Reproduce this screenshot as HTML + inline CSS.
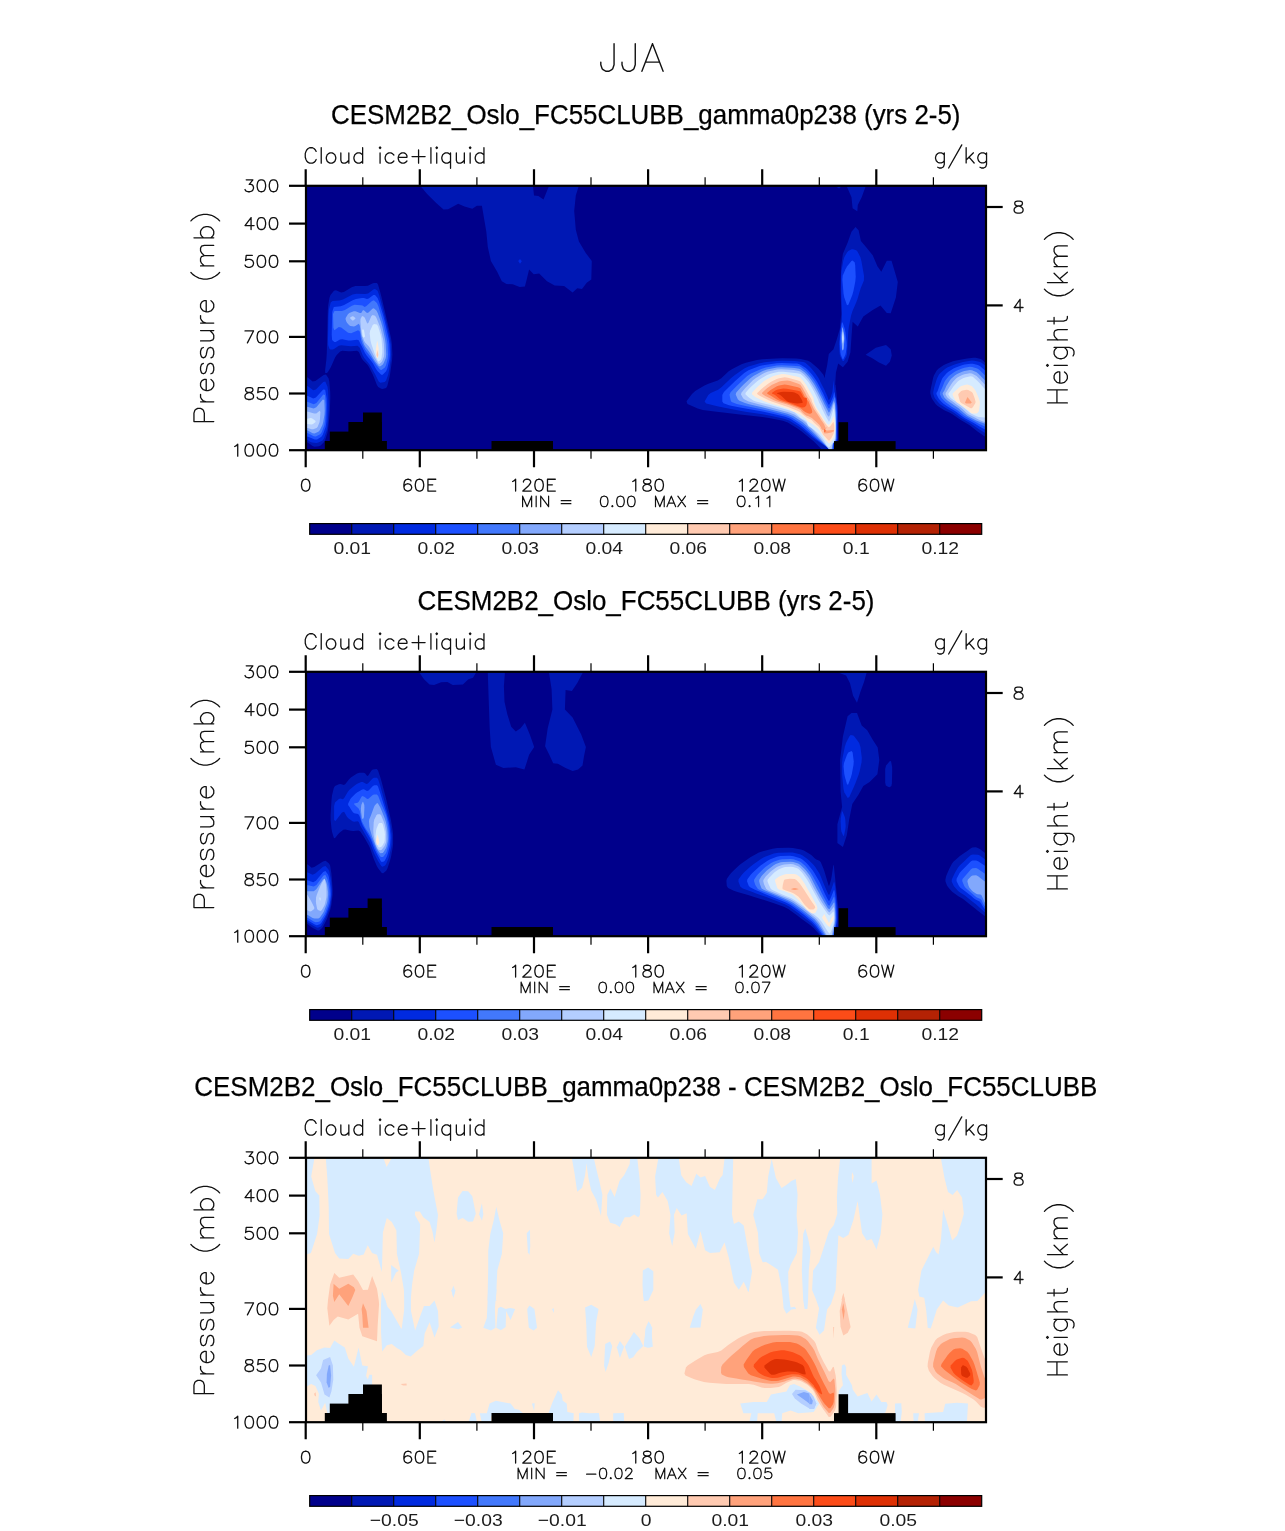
<!DOCTYPE html><html><head><meta charset="utf-8"><title>JJA</title><style>html,body{margin:0;padding:0;background:#fff}svg{display:block;will-change:transform}text{font-family:"Liberation Sans",sans-serif;fill:#000}.t{stroke:#000;stroke-width:.25px}.c{fill:#1c1c1c}</style></head><body>
<svg width="1285" height="1531" viewBox="0 0 1285 1531">
<rect width="1285" height="1531" fill="#fff"/>
<path d="M614.06 43.70 L614.06 64.73 L612.73 68.67 L611.40 69.99 L608.75 71.30 L606.10 71.30 L603.45 69.99 L602.13 68.67 L600.80 64.73 L600.80 62.10 M635.26 43.70 L635.26 64.73 L633.94 68.67 L632.61 69.99 L629.96 71.30 L627.31 71.30 L624.66 69.99 L623.33 68.67 L622.01 64.73 L622.01 62.10 M652.50 43.70 L641.89 71.30 M652.50 43.70 L663.10 71.30 M645.87 62.10 L659.12 62.10" fill="none" stroke="#111" stroke-width="1.4" stroke-linecap="round" stroke-linejoin="round"/>
<clipPath id="cp0"><rect x="306.0" y="185.8" width="680.0" height="264.4"/></clipPath>
<g clip-path="url(#cp0)" transform="translate(0,0)"><rect x="300" y="180" width="700" height="280" fill="#00008b"/><polygon points="298.9,376.7 305.4,376.7 307.8,377.6 312.6,381.5 315.4,381.0 323.7,374.9 326.0,374.5 328.6,378.4 329.3,381.4 330.2,391.9 330.3,396.9 329.9,409.9 329.5,415.5 328.2,428.5 327.5,432.8 325.3,439.8 324.1,442.0 320.6,445.5 318.9,446.3 314.6,446.7 312.6,446.1 307.8,442.6 305.4,441.9 298.9,441.9 297.5,432.1 297.5,386.5" fill="#0018b4"/><polygon points="298.9,385.4 305.4,385.4 307.9,386.2 313.2,390.2 315.9,389.4 323.2,382.0 325.3,381.6 327.5,386.8 328.1,390.7 328.7,403.7 328.6,409.9 327.5,425.5 326.7,430.5 324.1,438.3 322.6,440.5 318.3,442.6 316.4,443.0 312.1,442.6 310.5,442.0 307.5,439.9 305.4,439.4 298.9,439.4 297.5,431.3 297.5,393.5" fill="#002ae0"/><polygon points="298.9,395.3 305.4,395.3 307.9,395.9 313.2,398.5 315.9,397.4 323.2,389.6 325.2,389.8 326.7,398.4 326.9,404.0 326.4,421.4 325.7,426.8 322.9,434.6 321.4,436.8 317.1,439.5 314.7,439.5 308.2,436.8 305.4,436.3 298.9,436.3 297.5,430.1 297.5,401.5" fill="#1c50ff"/><polygon points="298.9,401.5 305.4,401.5 308.0,402.0 313.7,404.2 316.4,402.9 323.3,394.6 325.0,394.9 325.9,404.5 325.9,409.1 325.0,421.3 324.3,425.4 321.7,432.3 320.2,434.3 315.8,436.4 313.7,436.3 308.0,433.2 305.4,432.6 298.9,432.6 297.5,427.9 297.5,406.2" fill="#4278fc"/><polygon points="298.9,406.5 305.4,406.5 308.0,406.9 313.7,408.6 316.3,407.3 322.8,399.5 324.3,400.1 324.7,410.5 324.5,414.4 323.2,422.2 322.4,425.0 319.8,430.2 318.4,431.7 314.5,433.4 312.6,433.2 307.8,430.6 305.4,430.1 298.9,430.1 297.5,426.5 297.5,410.0" fill="#82a8fc"/><polygon points="298.9,411.5 305.4,411.5 308.1,411.8 314.2,413.6 316.3,413.4 319.7,410.8 320.4,411.9 319.9,419.7 319.5,422.3 317.7,426.7 316.6,427.9 313.2,429.2 311.6,429.2 307.7,427.9 305.4,427.6 298.9,427.6 297.5,425.2 297.5,413.9" fill="#b4ceff"/><polygon points="298.9,418.9 305.4,418.9 307.5,418.7 310.5,417.9 311.9,418.2 315.4,420.8 315.6,421.9 313.0,424.0 311.6,424.4 307.7,424.0 305.4,423.9 298.9,423.9 297.5,423.1 297.5,419.7" fill="#d6ebff"/><polygon points="325.1,370.6 326.4,359.3 326.8,353.1 327.2,335.8 327.4,328.3 327.8,311.0 328.2,305.6 329.5,297.7 330.5,295.1 334.0,290.8 335.9,290.3 341.1,292.5 343.9,291.9 351.7,287.2 355.4,286.1 365.0,286.1 367.9,285.7 372.3,283.5 373.9,283.0 376.9,283.0 378.0,284.6 380.2,292.0 381.6,297.5 385.9,315.7 387.6,323.0 391.1,338.6 391.9,344.2 392.4,354.6 392.1,359.7 390.3,372.7 389.5,377.3 387.3,386.0 386.1,388.1 382.6,388.9 381.3,388.8 378.2,387.0 376.9,385.0 373.9,377.2 372.5,374.0 369.0,367.0 367.3,364.6 363.0,360.3 361.5,358.0 358.9,352.0 357.0,350.8 350.9,351.2 348.3,351.2 342.3,350.8 340.2,351.4 336.7,354.9 335.2,357.3 331.8,365.1 330.5,367.7 327.9,372.1 326.9,373.0 325.2,373.0" fill="#0018b4"/><polygon points="328.0,339.4 328.4,316.0 328.9,309.5 330.7,302.5 332.5,300.9 339.5,300.5 343.0,299.4 352.6,294.6 356.5,293.7 365.1,294.1 368.1,293.4 373.3,289.5 375.0,289.0 377.6,290.7 379.3,295.4 384.5,315.4 386.4,323.0 389.8,338.6 390.7,344.2 391.1,354.6 390.8,359.3 389.1,370.6 388.3,374.3 386.1,380.4 384.7,381.9 380.4,382.7 378.7,381.4 375.2,374.5 373.7,371.7 370.2,365.6 368.6,363.2 364.2,358.0 362.6,355.2 359.6,347.4 357.5,345.8 351.0,346.2 348.1,346.1 341.2,345.3 338.8,345.7 334.4,348.8 332.9,349.4 330.3,349.4 329.5,348.7 328.2,345.2" fill="#002ae0"/><polygon points="331.7,334.7 332.2,312.1 333.8,307.0 340.7,306.2 344.1,305.0 352.7,300.2 355.9,299.0 362.0,298.1 363.9,298.1 367.0,299.0 368.7,298.4 373.4,294.9 375.0,294.9 377.6,297.9 379.1,301.7 383.5,316.5 385.1,323.0 388.6,338.6 389.4,344.2 389.9,354.6 389.5,358.9 387.3,368.5 386.1,371.3 382.6,374.7 381.2,374.7 377.7,371.3 376.2,369.2 372.7,363.1 371.0,360.7 366.7,355.5 365.0,352.9 361.6,345.9 360.4,343.7 358.7,340.2 357.0,339.7 350.9,340.5 348.3,340.5 342.3,339.2 340.0,339.4 335.7,342.0 334.3,342.1 332.1,340.0" fill="#1c50ff"/><polygon points="333.4,327.8 333.0,313.9 334.5,311.0 341.9,311.0 344.9,310.0 351.9,305.7 354.7,304.8 360.7,305.3 362.5,305.6 364.7,306.9 366.4,306.1 372.0,300.9 373.9,300.3 376.9,302.9 378.4,306.3 382.3,319.3 383.8,325.1 386.8,339.0 387.6,344.2 388.0,354.6 387.7,358.4 386.0,365.3 384.9,367.4 381.4,370.0 379.9,369.6 376.4,365.2 375.0,363.2 371.5,358.0 370.0,355.9 366.5,351.6 365.1,349.4 362.1,343.3 361.1,340.1 359.8,331.4 358.1,330.2 351.1,333.3 348.1,332.8 341.2,327.6 338.8,327.1 334.4,330.2" fill="#4278fc"/><polygon points="345.8,317.7 347.9,314.2 349.3,313.1 353.7,311.3 355.5,311.3 359.9,313.1 361.2,312.9 362.9,310.3 363.9,310.3 367.0,312.9 368.5,312.6 372.4,308.7 373.8,308.3 376.4,310.5 377.7,313.0 381.2,322.6 382.5,327.2 385.1,339.4 385.7,344.2 386.2,354.6 385.8,358.0 383.6,363.2 382.6,364.7 380.0,366.4 378.7,365.9 375.2,361.5 373.7,359.3 370.2,353.2 368.7,351.0 365.3,346.6 364.1,344.4 361.9,338.3 361.1,335.0 359.8,325.4 358.8,323.8 355.3,326.0 353.9,326.4 350.4,325.9 349.2,325.3 347.0,322.7 346.3,321.6 345.5,319.0" fill="#82a8fc"/><polygon points="360.5,319.1 361.8,316.5 362.4,316.1 364.2,317.0 365.0,318.3 367.2,323.5 368.3,323.1 371.3,316.2 372.5,314.9 375.1,315.7 376.4,317.8 379.9,326.5 381.1,330.4 383.3,339.9 383.9,344.0 384.3,353.6 384.0,356.6 382.3,360.9 381.4,362.2 379.3,363.9 378.1,363.2 375.1,358.0 373.7,355.4 370.2,348.4 368.7,346.2 365.3,342.7 364.1,340.7 361.9,334.6 361.2,331.2 360.4,321.7" fill="#b4ceff"/><polygon points="370.1,330.8 372.7,325.2 373.9,324.1 376.9,324.5 378.1,326.5 380.7,335.1 381.5,339.1 382.3,348.6 382.3,352.0 381.5,358.0 380.8,359.7 378.6,361.5 377.6,360.5 375.0,354.4 373.9,351.5 371.3,343.7 370.5,340.5 369.7,333.5" fill="#d6ebff"/><polygon points="375.9,349.0 377.0,341.2 377.4,341.0 378.6,347.9 378.7,350.7 378.3,356.8 378.0,358.1 376.9,358.1 376.5,357.0 375.8,351.8" fill="#ffebd8"/><polygon points="377.4,350.3 378.3,354.9 377.4,357.6 376.5,354.9" fill="#ffcab1"/><polygon points="350.1,317.5 352.3,316.2 353.2,316.3 355.4,318.0 355.4,318.8 353.2,320.5 352.3,320.4 350.1,318.2" fill="#b4ceff"/><polygon points="362.3,329.6 363.6,329.6 364.1,330.7 365.0,335.9 364.8,337.1 363.0,337.5 362.6,336.4 362.1,330.8" fill="#d6ebff"/><polygon points="420.9,183.1 420.9,186.5 427.1,194.0 436.5,203.3 443.5,209.6 448.1,209.3 458.2,203.7 464.5,206.5 472.3,208.8 476.9,205.7 481.9,205.7 483.9,217.4 486.3,231.4 487.8,246.9 490.9,260.9 497.2,271.8 501.8,281.2 506.5,284.0 512.7,284.3 519.7,287.1 524.9,286.6 526.7,279.6 529.1,269.5 533.7,274.2 539.2,273.4 547.0,281.2 554.7,285.5 564.1,286.1 572.6,292.4 577.3,288.2 582.0,288.9 586.7,282.7 591.3,279.6 591.8,260.9 585.9,253.2 578.9,241.5 575.8,229.8 574.2,211.1 575.8,195.6 578.6,186.5 578.6,183.1 548.8,183.1 548.8,186.5 543.5,199.5 538.4,196.0 534.0,195.6 533.0,186.5 533.0,183.1" fill="#0018b4"/><polygon points="518.2,260.9 520.0,259.1 521.8,261.2 520.0,263.7" fill="#002ae0"/><polygon points="846.8,183.1 865.6,183.1 865.6,186.6 861.7,197.2 857.8,205.1 857.3,211.3 852.6,208.2 851.5,197.2 846.8,186.6" fill="#0018b4"/><polygon points="835.9,184.7 841.3,184.7 841.3,186.6 839.0,188.6 835.9,186.6" fill="#0018b4"/><polygon points="855.5,227.0 858.6,230.2 860.9,241.1 866.4,247.4 872.7,255.2 877.4,266.2 881.3,271.7 886.8,260.7 891.5,260.7 894.6,270.9 897.8,281.9 895.9,297.6 890.7,313.2 886.8,312.9 880.5,305.4 872.7,310.1 863.3,316.4 857.8,326.6 852.6,321.8 851.5,336.7 850.4,352.4 847.6,361.8 842.9,367.3 838.2,363.4 835.9,372.8 834.3,399.4 835.9,420.0 837.4,446.5 825.7,446.5 825.7,399.4 824.9,375.9 827.2,365.0 828.8,354.0 833.5,349.3 836.6,339.9 839.8,328.9 841.3,313.2 840.6,289.7 841.0,267.8 842.9,253.7 847.6,242.7 851.5,231.7" fill="#0018b4"/><polygon points="853.0,249.2 856.3,250.3 857.6,251.7 860.4,257.2 861.5,261.4 864.0,275.7 863.9,280.4 860.8,288.1 859.7,291.4 857.5,299.0 856.2,302.6 852.4,311.3 851.1,315.6 848.9,326.6 848.3,331.3 847.7,342.2 847.5,346.2 847.0,353.9 846.3,356.5 843.8,360.9 842.7,360.9 840.3,356.5 839.7,353.9 839.1,346.2 839.2,342.2 840.3,331.3 840.8,327.3 841.9,319.6 842.0,314.9 841.5,300.6 841.3,294.0 841.1,277.6 841.4,271.7 843.3,260.7 844.3,257.3 847.0,252.4 848.3,251.0 851.6,249.3" fill="#002ae0"/><polygon points="852.7,260.4 854.7,262.6 855.2,265.4 855.7,276.4 855.4,280.9 853.5,290.7 852.3,295.0 848.4,304.8 847.0,305.3 844.3,297.6 843.5,293.2 842.4,280.0 842.7,275.8 845.5,269.2 847.0,266.6 851.4,261.1" fill="#1c50ff"/><polygon points="842.6,322.5 844.8,329.1 845.5,332.6 846.6,342.5 846.7,346.0 845.9,352.6 845.3,354.9 843.3,359.3 842.6,359.3 840.9,354.9 840.4,352.3 839.9,344.7 839.9,341.1 840.4,332.4 840.8,329.1 841.9,322.5" fill="#1c50ff"/><polygon points="842.8,327.4 844.2,335.1 844.4,338.6 843.8,347.4 843.5,349.5 842.4,350.6 842.0,348.7 841.5,338.9 841.5,335.1 842.3,327.4" fill="#82a8fc"/><polygon points="843.0,331.6 843.6,337.1 843.6,339.2 843.0,343.6 842.8,343.6 842.2,339.2 842.2,337.1 842.8,331.6" fill="#d6ebff"/><polygon points="865.6,354.8 875.8,347.7 886.0,344.9 890.7,349.3 891.8,355.5 889.9,361.8 886.0,365.7 879.0,362.6 871.9,357.9" fill="#0018b4"/><polygon points="686.5,401.3 692.0,393.9 695.2,391.1 704.5,385.6 708.4,383.7 717.7,380.5 721.3,378.3 728.7,371.3 732.3,368.9 741.5,364.2 745.9,362.7 757.0,360.1 762.4,359.3 776.2,358.4 782.2,358.3 796.1,358.5 800.7,359.0 808.1,360.8 810.8,362.2 816.4,366.9 818.6,369.1 823.2,374.6 824.9,377.9 828.1,387.6 829.8,388.7 834.5,384.1 835.6,385.1 836.6,394.3 836.9,397.7 837.3,404.2 837.5,407.2 838.0,414.6 838.1,419.9 838.1,437.5 837.5,441.3 834.7,441.3 834.0,442.7 833.6,449.2 831.9,450.5 824.5,450.5 821.3,449.0 813.9,441.5 810.3,438.4 801.1,431.0 797.1,428.2 787.8,422.6 782.9,420.8 769.0,418.1 762.6,417.1 746.9,415.2 739.9,414.4 723.3,412.6 716.7,411.8 702.8,409.9 697.7,408.5 687.5,403.9" fill="#0018b4"/><polygon points="704.6,401.5 708.3,395.0 710.7,393.0 718.1,389.7 721.7,387.1 730.9,378.3 734.9,375.1 744.2,368.6 748.5,366.5 759.6,363.3 764.6,362.3 776.6,360.9 782.0,360.7 795.0,361.1 798.7,361.4 803.4,361.9 805.3,362.8 809.3,366.3 811.0,368.0 814.5,372.3 815.8,374.1 818.5,378.1 819.5,379.9 821.6,384.2 822.5,386.0 824.7,390.3 825.4,391.9 826.9,395.2 827.4,396.6 828.6,399.9 829.1,400.1 830.3,398.1 830.8,396.9 832.0,393.3 832.4,391.5 833.0,386.8 833.1,384.9 833.3,380.6 833.4,380.6 833.9,384.9 834.2,387.3 835.1,394.4 835.5,396.5 836.2,398.8 836.5,400.4 837.2,405.1 837.4,407.3 837.6,412.8 837.6,415.6 837.4,423.3 837.3,427.4 837.3,438.8 836.8,441.2 834.5,441.2 834.0,442.8 834.0,450.4 830.9,450.0 816.7,440.6 811.6,437.0 802.4,429.1 798.4,426.2 789.1,420.6 784.0,418.8 769.2,415.5 762.6,414.3 746.9,412.0 739.9,410.8 723.3,407.6 717.3,406.3 706.2,403.5" fill="#002ae0"/><polygon points="722.3,401.5 722.3,395.0 723.9,392.1 731.3,384.7 734.9,381.3 744.2,373.0 748.5,370.3 759.6,366.1 764.6,364.9 776.6,363.3 781.8,363.0 793.8,363.4 797.0,363.6 799.5,364.2 801.0,365.0 805.8,368.1 807.7,369.8 812.0,374.6 813.5,376.5 816.4,380.8 817.5,382.6 819.9,386.9 820.8,388.7 823.0,393.0 823.8,394.7 825.4,398.5 826.3,400.2 828.4,404.4 829.2,404.7 830.9,401.7 831.5,400.3 833.0,396.7 833.4,395.3 834.1,392.2 834.5,392.7 835.4,398.2 835.8,400.4 836.5,405.1 836.7,407.3 837.0,412.8 837.0,415.6 836.8,423.3 836.8,427.4 836.8,438.8 836.3,441.2 834.1,441.5 833.6,443.1 833.4,450.4 830.6,449.9 817.7,440.1 813.0,436.2 803.7,427.9 799.7,424.8 790.5,418.8 785.1,416.7 769.4,413.0 762.6,411.6 746.9,408.8 741.5,407.8 732.3,406.0 729.1,405.2 723.5,403.3" fill="#1c50ff"/><polygon points="730.7,400.4 729.5,394.8 730.6,392.3 736.9,385.8 739.8,382.9 747.2,376.0 751.0,373.5 761.2,368.9 765.7,367.5 776.8,365.6 781.6,365.3 792.7,365.8 795.8,366.0 799.3,366.3 800.9,367.1 805.2,370.2 806.9,371.7 810.7,376.0 812.2,377.9 815.0,382.1 816.1,384.0 818.5,388.2 819.5,390.1 821.6,394.4 822.5,396.1 824.4,400.2 825.4,402.3 828.3,408.0 829.3,408.4 831.2,404.9 831.9,403.4 833.3,400.1 833.8,398.9 834.8,397.0 835.1,397.8 835.7,403.3 835.9,405.9 836.3,412.6 836.3,415.6 836.3,423.3 836.3,427.4 836.3,438.6 835.8,441.1 833.7,441.8 833.1,443.5 832.7,450.5 830.1,449.8 818.7,439.5 814.3,435.4 805.0,426.6 801.1,423.5 791.8,417.4 786.2,415.3 769.6,411.1 762.6,409.5 746.9,406.3 742.3,405.3 736.8,403.9 734.9,403.3 731.6,401.9" fill="#4278fc"/><polygon points="737.8,399.3 735.7,394.6 736.3,392.5 741.1,386.9 743.6,384.4 750.1,378.4 753.4,376.0 762.7,370.9 766.9,369.4 777.0,367.6 781.4,367.3 791.6,367.8 794.7,368.0 799.1,368.7 800.8,369.4 804.6,372.3 806.1,373.7 809.5,377.5 810.8,379.2 813.7,383.5 814.8,385.3 817.1,389.6 818.1,391.4 820.3,395.7 821.2,397.6 823.3,401.8 824.2,403.7 826.4,407.9 827.2,409.5 828.7,412.6 829.4,412.3 831.4,407.5 832.1,405.6 833.5,401.5 834.0,401.1 834.7,403.0 835.0,404.9 835.5,412.1 835.7,415.3 835.9,423.3 835.9,427.3 835.9,438.2 835.4,440.9 833.3,442.6 832.6,444.4 831.9,450.6 829.7,449.7 819.7,439.0 815.6,434.7 806.3,425.4 802.4,422.1 793.1,416.1 787.4,413.8 769.8,409.2 763.0,407.5 749.1,404.3 745.0,403.1 739.4,400.8" fill="#82a8fc"/><polygon points="743.1,398.2 741.0,394.5 741.4,392.7 745.3,388.0 747.3,385.9 752.9,380.3 755.9,378.0 764.2,372.9 768.0,371.4 777.2,369.6 781.2,369.3 790.5,369.7 793.6,370.0 798.9,371.0 800.7,371.7 804.0,374.3 805.4,375.7 808.5,379.2 809.7,380.9 812.3,384.9 813.4,386.7 815.8,391.0 816.8,392.8 818.9,397.1 819.8,399.0 822.0,403.5 822.9,405.4 825.0,409.9 825.7,411.4 826.7,414.0 827.2,414.9 828.7,416.8 829.4,416.1 831.4,411.0 832.0,409.0 833.2,405.2 833.6,404.2 834.1,403.0 834.3,403.6 834.9,407.6 835.1,409.8 835.4,415.7 835.4,418.6 835.5,426.3 835.5,429.8 835.4,438.2 834.9,440.7 832.8,443.8 832.1,445.6 831.2,450.9 829.2,449.6 820.7,438.4 816.9,433.9 807.7,424.2 803.7,420.8 794.4,414.6 788.5,412.2 770.0,407.3 763.4,405.5 751.4,402.3 748.0,401.2 744.3,399.3" fill="#b4ceff"/><polygon points="748.2,397.0 745.4,394.3 745.6,392.8 749.3,388.6 751.3,386.6 756.9,381.5 759.6,379.5 767.1,375.0 770.4,373.7 778.8,371.8 783.5,371.7 797.1,373.2 800.6,374.1 803.5,376.4 804.7,377.7 807.5,381.0 808.7,382.5 811.0,386.3 812.1,388.0 814.4,392.3 815.4,394.2 817.5,398.4 818.1,399.8 818.8,401.8 819.2,402.7 820.4,404.8 820.9,405.8 821.9,408.4 822.4,409.4 823.4,411.5 823.9,412.4 824.9,414.5 825.4,415.4 826.4,417.5 826.9,418.3 827.9,420.0 828.3,420.6 828.9,421.8 829.2,421.6 830.2,419.5 830.6,418.4 831.6,415.3 832.0,413.9 832.9,410.8 833.2,409.8 833.7,408.2 834.0,408.7 834.7,412.7 834.9,414.6 835.3,419.4 835.5,421.9 835.6,429.0 835.5,431.6 835.2,436.3 835.0,437.9 834.2,440.5 833.6,441.5 832.1,443.7 831.4,444.7 829.5,447.0 828.6,447.1 826.7,445.2 826.0,444.2 824.6,441.4 823.5,439.8 820.0,435.3 818.3,433.5 814.0,429.7 812.3,428.4 808.8,426.3 807.8,425.1 806.7,422.1 806.0,421.1 803.5,419.5 802.5,418.9 800.4,417.7 799.1,416.5 794.7,412.4 789.6,410.4 770.2,405.1 764.2,403.5 755.9,401.4 753.3,400.4 749.6,398.1" fill="#d6ebff"/><polygon points="755.3,397.0 751.9,394.3 752.0,392.8 755.9,388.6 757.9,386.6 763.5,381.5 766.1,379.7 772.5,376.5 775.3,375.5 781.8,374.1 785.7,374.3 797.5,376.8 800.5,377.8 802.9,380.5 803.9,381.7 806.3,385.1 807.3,386.7 809.7,391.0 810.7,392.8 813.1,397.1 813.6,398.5 813.9,400.9 814.2,402.0 815.2,404.6 815.7,405.8 817.1,408.4 817.7,409.4 819.1,411.5 819.7,412.4 820.9,414.5 821.5,415.4 822.9,417.5 823.5,418.4 824.9,420.7 825.4,421.6 826.8,423.5 827.4,424.0 828.7,424.8 829.3,424.6 830.8,422.8 831.3,422.0 832.2,419.8 832.6,418.9 833.3,416.8 833.6,416.5 834.0,417.5 834.3,418.6 834.9,422.9 835.0,425.0 834.9,431.0 834.7,433.0 834.0,436.6 833.5,437.9 832.1,440.2 831.4,441.2 829.5,443.2 828.5,443.1 826.2,440.6 825.2,439.4 823.3,436.3 822.4,434.8 819.8,430.7 818.3,429.1 814.0,425.3 812.3,424.0 808.8,422.1 807.6,421.2 805.9,418.9 805.0,418.1 802.9,416.7 802.1,416.1 800.4,414.7 797.9,413.5 788.0,409.1 782.9,407.3 769.0,403.1 764.5,401.6 757.6,398.3" fill="#ffebd8"/><polygon points="760.1,395.9 757.1,394.1 757.3,392.9 761.2,389.2 763.2,387.5 768.8,383.3 771.2,381.8 776.7,379.0 779.1,378.2 784.6,377.3 788.0,377.7 797.9,380.4 800.4,381.5 802.3,383.9 803.2,385.1 805.3,388.5 806.2,389.9 808.1,393.5 808.9,395.0 810.9,398.3 811.5,399.4 811.9,401.1 812.2,402.0 813.4,404.6 814.0,405.8 815.4,408.4 816.0,409.4 817.4,411.5 818.0,412.4 819.4,414.5 820.0,415.4 821.4,417.5 822.0,418.4 823.4,420.7 824.0,421.6 825.3,423.5 825.8,424.1 826.6,425.3 827.1,425.8 828.7,427.2 829.3,427.1 830.8,425.5 831.3,424.8 832.2,423.4 832.6,422.9 833.3,421.9 833.6,422.3 834.2,424.9 834.3,426.2 834.3,429.8 834.2,431.1 833.6,433.4 833.2,434.5 832.0,436.8 831.4,437.9 829.5,440.5 828.5,440.5 826.2,437.9 825.3,437.0 823.6,435.3 823.0,434.5 821.8,432.1 821.2,430.9 819.6,427.8 818.5,426.6 815.5,424.0 814.3,422.9 811.9,420.3 810.9,419.5 808.5,418.5 807.5,418.0 805.0,416.3 804.1,415.6 802.4,414.2 801.7,413.6 800.3,412.2 797.9,411.1 788.0,407.1 783.5,405.4 772.3,401.7 768.6,400.2 762.1,397.0" fill="#ffcab1"/><polygon points="765.3,395.9 762.1,393.8 762.1,392.7 765.3,389.7 767.0,388.3 771.6,385.1 773.8,383.9 779.4,381.6 781.7,381.0 787.3,380.5 790.2,381.0 798.3,383.8 800.3,384.8 801.7,386.7 802.4,387.8 804.3,391.2 805.1,392.6 806.8,395.9 807.5,397.1 809.0,399.2 809.5,400.0 810.1,401.2 810.5,402.0 811.7,404.6 812.3,405.8 813.6,408.4 814.2,409.4 815.6,411.5 816.2,412.4 817.6,414.5 818.2,415.4 819.6,417.5 820.2,418.4 821.6,420.7 822.2,421.6 823.6,423.5 824.2,424.5 825.4,427.5 825.9,428.0 826.8,427.3 826.9,427.3 826.6,428.0 826.3,428.3 825.2,429.0 824.7,429.3 823.2,429.9 822.7,429.9 821.8,429.3 821.5,428.9 821.0,427.5 820.6,426.8 819.5,424.9 818.5,423.9 815.5,421.3 814.3,420.3 811.9,418.1 810.9,417.4 808.5,416.2 807.8,415.9 806.7,415.7 806.1,415.4 804.1,414.0 803.4,413.3 801.8,411.8 801.3,411.1 800.2,409.7 798.3,408.8 790.2,405.6 786.5,404.3 777.2,401.5 773.9,400.2 767.4,397.0" fill="#ffa27b"/><polygon points="770.0,395.3 767.2,393.7 767.3,392.8 770.6,390.0 772.3,388.9 776.9,386.3 779.1,385.5 784.6,384.6 788.0,384.9 797.9,387.3 800.3,388.3 801.7,390.7 802.4,391.9 804.1,395.2 804.7,396.4 806.1,398.6 806.8,399.4 808.2,401.1 808.7,402.0 809.7,404.6 810.2,405.7 811.2,408.0 811.6,408.9 812.1,411.0 812.2,411.7 812.0,412.7 811.7,413.1 810.3,413.8 809.7,413.8 808.5,413.5 807.8,413.3 806.1,412.6 805.3,412.1 803.4,410.7 802.7,410.1 801.3,408.7 800.8,408.4 800.1,408.0 798.3,407.3 790.2,404.2 786.9,403.1 779.5,400.8 776.8,399.6 771.7,396.3" fill="#ff7440"/><polygon points="774.7,394.7 771.9,393.6 772.1,392.8 775.8,390.2 777.8,389.5 783.3,388.6 786.8,388.8 797.7,390.8 800.3,391.6 801.4,393.2 802.0,394.2 803.4,397.0 804.2,397.7 806.3,397.7 806.8,398.3 806.9,400.9 806.9,401.8 806.8,403.6 806.6,404.3 806.1,405.7 805.8,406.1 804.7,407.0 804.1,407.2 802.4,407.4 801.7,407.4 800.3,407.0 798.3,406.2 790.2,403.0 787.3,401.9 781.7,400.0 779.8,398.9 776.0,395.7" fill="#fc4c18"/><polygon points="779.9,394.7 776.9,393.6 777.1,393.1 781.0,391.9 783.7,391.7 792.0,392.0 794.5,392.4 797.7,394.0 798.9,395.1 801.2,398.8 801.9,400.1 802.8,402.4 802.0,403.0 797.4,403.5 795.0,403.3 788.5,401.9 786.2,400.6 781.5,396.0" fill="#de3004"/><polygon points="823.8,428.8 824.5,428.6 824.9,428.8 826.1,430.3 827.5,430.5 832.7,430.0 833.8,430.1 834.0,431.0 833.6,431.4 832.1,432.1 831.3,432.4 828.9,433.0 827.7,433.2 824.6,433.4 823.9,432.8 823.7,429.6" fill="#ffa27b"/><polygon points="824.1,429.2 824.5,428.9 824.8,429.2 825.8,430.6 825.9,431.0 825.7,431.5 825.4,431.7 824.2,432.2 824.0,431.8 824.0,429.7" fill="#ff7440"/><polygon points="988.5,363.0 986.0,363.0 984.9,362.4 982.4,359.9 980.8,359.1 975.7,357.8 973.4,357.7 967.3,358.5 964.3,359.0 956.3,360.5 953.0,361.3 946.0,363.9 943.4,365.2 938.4,368.7 936.7,370.5 933.9,375.5 933.1,377.9 931.8,383.9 931.3,386.3 930.3,391.3 930.3,393.3 931.3,397.3 932.3,399.2 935.8,404.3 937.7,406.1 942.7,409.3 944.8,410.5 949.9,412.8 952.4,414.2 958.9,418.8 961.6,420.5 967.6,424.0 970.0,425.6 975.0,429.6 977.5,431.5 984.0,436.0 986.0,437.0 988.5,437.0 989.0,425.9 989.0,374.1" fill="#0018b4"/><polygon points="988.5,365.8 986.0,365.8 984.7,365.2 981.2,362.5 979.3,361.7 974.3,360.7 971.9,360.6 965.9,361.4 963.1,362.0 956.1,364.0 953.3,364.9 947.2,367.5 945.0,368.9 940.4,372.9 939.0,374.6 937.0,378.6 936.3,380.6 934.8,385.6 934.2,387.6 933.2,392.2 933.3,393.9 934.5,397.4 935.5,399.0 938.8,403.1 940.4,404.6 945.0,407.6 947.0,408.8 952.0,411.6 954.4,413.1 960.4,417.4 963.0,419.0 969.1,422.6 971.4,424.1 976.5,427.6 978.7,429.1 984.3,432.6 986.0,433.4 988.5,433.4 989.0,423.2 989.0,376.0" fill="#002ae0"/><polygon points="988.5,370.9 986.0,370.9 984.5,370.0 979.9,366.0 977.9,364.9 972.9,363.8 970.5,363.7 964.5,364.6 961.9,365.2 955.8,367.5 953.5,368.6 948.4,371.7 946.6,373.2 943.1,377.2 942.0,379.0 940.2,383.5 939.5,385.5 938.0,390.0 937.4,391.4 936.4,393.1 936.5,394.2 938.1,397.5 939.0,398.9 941.7,402.1 943.2,403.4 947.2,406.2 949.2,407.4 954.2,410.5 956.5,412.0 962.0,416.3 964.5,417.9 970.5,421.2 972.9,422.5 977.9,425.5 979.9,426.7 984.5,429.2 986.0,429.8 988.5,429.8 989.0,420.9 989.0,379.7" fill="#1c50ff"/><polygon points="988.5,375.9 986.0,375.9 984.4,374.8 979.3,369.8 977.2,368.4 972.2,366.9 969.9,366.8 964.4,367.8 962.0,368.5 956.5,370.7 954.3,371.9 949.8,375.2 948.2,376.8 945.1,380.8 944.2,382.5 942.7,386.5 941.9,388.3 939.9,392.6 939.8,394.2 941.3,397.5 942.2,398.7 944.7,401.2 946.0,402.4 949.5,405.1 951.3,406.4 956.3,409.4 958.5,410.9 963.5,415.2 965.9,416.8 971.9,420.1 974.3,421.3 979.3,423.9 981.2,424.8 984.7,426.5 986.0,426.9 988.5,426.9 989.0,419.3 989.0,383.5" fill="#4278fc"/><polygon points="988.5,380.9 986.0,380.9 984.3,379.7 978.7,373.9 976.6,372.2 972.0,370.2 969.9,370.0 964.4,371.0 962.1,371.7 957.1,374.0 955.1,375.2 951.1,378.7 949.7,380.4 947.2,384.4 946.3,386.0 944.8,389.5 944.2,390.8 942.7,393.0 942.7,394.1 944.2,397.2 945.0,398.3 947.5,400.6 948.8,401.6 952.4,404.1 954.1,405.3 958.6,408.3 960.5,409.9 965.1,414.1 967.3,415.8 973.4,419.0 975.7,420.2 980.8,422.2 982.4,422.8 984.9,423.8 986.0,424.0 988.5,424.0 989.0,417.6 989.0,387.4" fill="#82a8fc"/><polygon points="988.5,385.2 986.0,385.2 984.3,383.9 978.7,377.9 976.6,376.1 972.0,373.6 969.9,373.2 964.4,374.2 962.2,374.9 957.7,377.2 956.1,378.4 953.0,381.7 951.9,383.2 949.3,387.2 948.3,389.0 945.7,392.9 945.5,394.3 947.0,396.9 947.9,397.9 950.4,399.9 951.6,400.8 954.6,403.1 956.2,404.3 960.8,407.5 962.6,409.1 966.6,413.1 968.8,414.6 974.8,417.6 977.0,418.7 981.0,420.7 982.4,421.3 984.9,422.1 986.0,422.2 988.5,422.2 989.0,416.7 989.0,390.8" fill="#b4ceff"/><polygon points="988.5,389.5 986.0,389.5 984.4,388.4 979.3,382.8 977.3,380.8 972.8,376.8 970.6,376.2 965.1,377.4 963.0,378.2 959.0,380.4 957.5,381.7 954.5,385.2 953.4,386.6 951.4,389.6 950.5,390.8 948.5,393.3 948.4,394.4 949.9,396.9 950.8,397.9 953.3,399.9 954.6,400.8 958.1,402.8 959.7,404.0 963.7,407.5 965.5,409.0 969.5,412.5 971.4,413.8 976.5,416.3 978.7,417.0 984.3,417.5 986.0,417.6 988.5,417.6 989.0,413.4 989.0,393.8" fill="#d6ebff"/><polygon points="952.9,393.3 955.4,390.8 956.6,389.7 959.6,386.9 961.3,386.0 965.8,384.7 967.5,384.6 971.0,385.7 972.3,386.6 974.8,389.6 975.8,391.2 977.8,395.8 978.5,397.6 979.8,401.6 979.9,403.8 979.1,409.8 978.7,411.5 977.1,413.2 976.1,413.6 972.5,413.6 971.1,413.0 968.1,410.3 966.4,408.9 961.4,405.4 959.6,404.2 956.6,402.2 955.6,400.9 953.5,396.9 953.0,395.7 952.5,394.2" fill="#ffebd8"/><polygon points="958.7,393.4 961.2,391.1 962.6,390.5 966.6,389.8 968.2,390.1 971.8,392.0 972.8,393.3 974.3,397.3 974.8,398.8 975.6,401.8 975.4,403.1 973.6,406.1 973.0,407.1 971.7,408.3 970.7,408.2 967.5,406.5 965.8,405.5 961.3,403.0 960.1,401.7 959.1,398.2 958.8,396.9 958.2,394.4" fill="#ffcab1"/><polygon points="965.0,402.5 967.5,396.9 971.8,402.5 970.7,403.6 966.0,403.6" fill="#ffa27b"/><rect x="324.8" y="441.0" width="62.1" height="11.0" fill="#000"/><rect x="329.8" y="431.6" width="52.1" height="20.4" fill="#000"/><rect x="348.4" y="422.0" width="33.5" height="30.0" fill="#000"/><rect x="363.0" y="412.5" width="18.9" height="39.5" fill="#000"/><rect x="491.5" y="441.0" width="61.5" height="11.0" fill="#000"/><rect x="834.0" y="441.1" width="61.6" height="10.9" fill="#000"/><rect x="838.6" y="422.2" width="9.5" height="29.8" fill="#000"/></g>
<rect x="306.0" y="185.8" width="680.0" height="264.4" fill="none" stroke="#000" stroke-width="2.2"/>
<path d="M305.7 450.2 V467.2 M305.7 185.8 V169.3" stroke="#000" stroke-width="2.2" fill="none"/>
<path d="M362.8 450.2 V458.7 M362.8 185.8 V177.3" stroke="#000" stroke-width="1.2" fill="none"/>
<path d="M419.8 450.2 V467.2 M419.8 185.8 V169.3" stroke="#000" stroke-width="2.2" fill="none"/>
<path d="M476.9 450.2 V458.7 M476.9 185.8 V177.3" stroke="#000" stroke-width="1.2" fill="none"/>
<path d="M534.0 450.2 V467.2 M534.0 185.8 V169.3" stroke="#000" stroke-width="2.2" fill="none"/>
<path d="M591.0 450.2 V458.7 M591.0 185.8 V177.3" stroke="#000" stroke-width="1.2" fill="none"/>
<path d="M648.1 450.2 V467.2 M648.1 185.8 V169.3" stroke="#000" stroke-width="2.2" fill="none"/>
<path d="M705.1 450.2 V458.7 M705.1 185.8 V177.3" stroke="#000" stroke-width="1.2" fill="none"/>
<path d="M762.2 450.2 V467.2 M762.2 185.8 V169.3" stroke="#000" stroke-width="2.2" fill="none"/>
<path d="M819.3 450.2 V458.7 M819.3 185.8 V177.3" stroke="#000" stroke-width="1.2" fill="none"/>
<path d="M876.3 450.2 V467.2 M876.3 185.8 V169.3" stroke="#000" stroke-width="2.2" fill="none"/>
<path d="M933.4 450.2 V458.7 M933.4 185.8 V177.3" stroke="#000" stroke-width="1.2" fill="none"/>
<path d="M306.0 185.8 H289.0" stroke="#000" stroke-width="2.2" fill="none"/>
<path d="M246.22 179.85 L252.89 179.85 L249.25 184.38 L251.07 184.38 L252.28 184.95 L252.89 185.52 L253.50 187.22 L253.50 188.35 L252.89 190.05 L251.68 191.18 L249.86 191.75 L248.04 191.75 L246.22 191.18 L245.61 190.62 L245.01 189.48 M260.77 179.85 L258.95 180.42 L257.74 182.12 L257.13 184.95 L257.13 186.65 L257.74 189.48 L258.95 191.18 L260.77 191.75 L261.99 191.75 L263.80 191.18 L265.02 189.48 L265.62 186.65 L265.62 184.95 L265.02 182.12 L263.80 180.42 L261.99 179.85 L260.77 179.85 M272.90 179.85 L271.08 180.42 L269.87 182.12 L269.26 184.95 L269.26 186.65 L269.87 189.48 L271.08 191.18 L272.90 191.75 L274.11 191.75 L275.93 191.18 L277.14 189.48 L277.75 186.65 L277.75 184.95 L277.14 182.12 L275.93 180.42 L274.11 179.85 L272.90 179.85" fill="none" stroke="#111" stroke-width="1.3" stroke-linecap="round" stroke-linejoin="round"/>
<path d="M306.0 223.6 H289.0" stroke="#000" stroke-width="2.2" fill="none"/>
<path d="M251.07 217.62 L245.01 225.55 L254.10 225.55 M251.07 217.62 L251.07 229.52 M260.77 217.62 L258.95 218.19 L257.74 219.89 L257.13 222.72 L257.13 224.42 L257.74 227.25 L258.95 228.95 L260.77 229.52 L261.99 229.52 L263.80 228.95 L265.02 227.25 L265.62 224.42 L265.62 222.72 L265.02 219.89 L263.80 218.19 L261.99 217.62 L260.77 217.62 M272.90 217.62 L271.08 218.19 L269.87 219.89 L269.26 222.72 L269.26 224.42 L269.87 227.25 L271.08 228.95 L272.90 229.52 L274.11 229.52 L275.93 228.95 L277.14 227.25 L277.75 224.42 L277.75 222.72 L277.14 219.89 L275.93 218.19 L274.11 217.62 L272.90 217.62" fill="none" stroke="#111" stroke-width="1.3" stroke-linecap="round" stroke-linejoin="round"/>
<path d="M306.0 261.3 H289.0" stroke="#000" stroke-width="2.2" fill="none"/>
<path d="M252.28 255.39 L246.22 255.39 L245.61 260.49 L246.22 259.93 L248.04 259.36 L249.86 259.36 L251.68 259.93 L252.89 261.06 L253.50 262.76 L253.50 263.89 L252.89 265.59 L251.68 266.73 L249.86 267.29 L248.04 267.29 L246.22 266.73 L245.61 266.16 L245.01 265.03 M260.77 255.39 L258.95 255.96 L257.74 257.66 L257.13 260.49 L257.13 262.19 L257.74 265.03 L258.95 266.73 L260.77 267.29 L261.99 267.29 L263.80 266.73 L265.02 265.03 L265.62 262.19 L265.62 260.49 L265.02 257.66 L263.80 255.96 L261.99 255.39 L260.77 255.39 M272.90 255.39 L271.08 255.96 L269.87 257.66 L269.26 260.49 L269.26 262.19 L269.87 265.03 L271.08 266.73 L272.90 267.29 L274.11 267.29 L275.93 266.73 L277.14 265.03 L277.75 262.19 L277.75 260.49 L277.14 257.66 L275.93 255.96 L274.11 255.39 L272.90 255.39" fill="none" stroke="#111" stroke-width="1.3" stroke-linecap="round" stroke-linejoin="round"/>
<path d="M306.0 336.9 H289.0" stroke="#000" stroke-width="2.2" fill="none"/>
<path d="M253.50 330.94 L247.43 342.84 M245.01 330.94 L253.50 330.94 M260.77 330.94 L258.95 331.50 L257.74 333.20 L257.13 336.04 L257.13 337.74 L257.74 340.57 L258.95 342.27 L260.77 342.84 L261.99 342.84 L263.80 342.27 L265.02 340.57 L265.62 337.74 L265.62 336.04 L265.02 333.20 L263.80 331.50 L261.99 330.94 L260.77 330.94 M272.90 330.94 L271.08 331.50 L269.87 333.20 L269.26 336.04 L269.26 337.74 L269.87 340.57 L271.08 342.27 L272.90 342.84 L274.11 342.84 L275.93 342.27 L277.14 340.57 L277.75 337.74 L277.75 336.04 L277.14 333.20 L275.93 331.50 L274.11 330.94 L272.90 330.94" fill="none" stroke="#111" stroke-width="1.3" stroke-linecap="round" stroke-linejoin="round"/>
<path d="M306.0 393.5 H289.0" stroke="#000" stroke-width="2.2" fill="none"/>
<path d="M248.04 387.59 L246.22 388.16 L245.61 389.29 L245.61 390.43 L246.22 391.56 L247.43 392.13 L249.86 392.69 L251.68 393.26 L252.89 394.39 L253.50 395.53 L253.50 397.23 L252.89 398.36 L252.28 398.93 L250.46 399.49 L248.04 399.49 L246.22 398.93 L245.61 398.36 L245.01 397.23 L245.01 395.53 L245.61 394.39 L246.83 393.26 L248.65 392.69 L251.07 392.13 L252.28 391.56 L252.89 390.43 L252.89 389.29 L252.28 388.16 L250.46 387.59 L248.04 387.59 M264.41 387.59 L258.35 387.59 L257.74 392.69 L258.35 392.13 L260.17 391.56 L261.99 391.56 L263.80 392.13 L265.02 393.26 L265.62 394.96 L265.62 396.09 L265.02 397.79 L263.80 398.93 L261.99 399.49 L260.17 399.49 L258.35 398.93 L257.74 398.36 L257.13 397.23 M272.90 387.59 L271.08 388.16 L269.87 389.86 L269.26 392.69 L269.26 394.39 L269.87 397.23 L271.08 398.93 L272.90 399.49 L274.11 399.49 L275.93 398.93 L277.14 397.23 L277.75 394.39 L277.75 392.69 L277.14 389.86 L275.93 388.16 L274.11 387.59 L272.90 387.59" fill="none" stroke="#111" stroke-width="1.3" stroke-linecap="round" stroke-linejoin="round"/>
<path d="M306.0 450.2 H289.0" stroke="#000" stroke-width="2.2" fill="none"/>
<path d="M234.70 446.52 L235.91 445.95 L237.73 444.25 L237.73 456.15 M248.65 444.25 L246.83 444.82 L245.61 446.52 L245.01 449.35 L245.01 451.05 L245.61 453.88 L246.83 455.58 L248.65 456.15 L249.86 456.15 L251.68 455.58 L252.89 453.88 L253.50 451.05 L253.50 449.35 L252.89 446.52 L251.68 444.82 L249.86 444.25 L248.65 444.25 M260.77 444.25 L258.95 444.82 L257.74 446.52 L257.13 449.35 L257.13 451.05 L257.74 453.88 L258.95 455.58 L260.77 456.15 L261.99 456.15 L263.80 455.58 L265.02 453.88 L265.62 451.05 L265.62 449.35 L265.02 446.52 L263.80 444.82 L261.99 444.25 L260.77 444.25 M272.90 444.25 L271.08 444.82 L269.87 446.52 L269.26 449.35 L269.26 451.05 L269.87 453.88 L271.08 455.58 L272.90 456.15 L274.11 456.15 L275.93 455.58 L277.14 453.88 L277.75 451.05 L277.75 449.35 L277.14 446.52 L275.93 444.82 L274.11 444.25 L272.90 444.25" fill="none" stroke="#111" stroke-width="1.3" stroke-linecap="round" stroke-linejoin="round"/>
<path d="M986.0 207.0 H1002.7" stroke="#000" stroke-width="2.2" fill="none"/>
<path d="M1017.33 201.05 L1015.42 201.63 L1014.79 202.78 L1014.79 203.93 L1015.42 205.08 L1016.69 205.66 L1019.24 206.24 L1021.14 206.81 L1022.41 207.96 L1023.05 209.12 L1023.05 210.85 L1022.41 212.00 L1021.78 212.57 L1019.87 213.15 L1017.33 213.15 L1015.42 212.57 L1014.79 212.00 L1014.15 210.85 L1014.15 209.12 L1014.79 207.96 L1016.06 206.81 L1017.96 206.24 L1020.51 205.66 L1021.78 205.08 L1022.41 203.93 L1022.41 202.78 L1021.78 201.63 L1019.87 201.05 L1017.33 201.05" fill="none" stroke="#111" stroke-width="1.3" stroke-linecap="round" stroke-linejoin="round"/>
<path d="M986.0 305.4 H1002.7" stroke="#000" stroke-width="2.2" fill="none"/>
<path d="M1020.08 299.45 L1014.15 307.52 L1023.05 307.52 M1020.08 299.45 L1020.08 311.55" fill="none" stroke="#111" stroke-width="1.3" stroke-linecap="round" stroke-linejoin="round"/>
<path d="M305.10 479.25 L303.30 479.81 L302.09 481.50 L301.49 484.31 L301.49 485.99 L302.09 488.80 L303.30 490.49 L305.10 491.05 L306.30 491.05 L308.10 490.49 L309.31 488.80 L309.91 485.99 L309.91 484.31 L309.31 481.50 L308.10 479.81 L306.30 479.25 L305.10 479.25" fill="none" stroke="#111" stroke-width="1.3" stroke-linecap="round" stroke-linejoin="round"/>
<path d="M411.11 480.94 L410.51 479.81 L408.70 479.25 L407.50 479.25 L405.70 479.81 L404.49 481.50 L403.89 484.31 L403.89 487.12 L404.49 489.36 L405.70 490.49 L407.50 491.05 L408.10 491.05 L409.91 490.49 L411.11 489.36 L411.71 487.68 L411.71 487.12 L411.11 485.43 L409.91 484.31 L408.10 483.75 L407.50 483.75 L405.70 484.31 L404.49 485.43 L403.89 487.12 M418.92 479.25 L417.12 479.81 L415.92 481.50 L415.32 484.31 L415.32 485.99 L415.92 488.80 L417.12 490.49 L418.92 491.05 L420.13 491.05 L421.93 490.49 L423.13 488.80 L423.73 485.99 L423.73 484.31 L423.13 481.50 L421.93 479.81 L420.13 479.25 L418.92 479.25 M427.94 479.25 L427.94 491.05 M427.94 479.25 L435.76 479.25 M427.94 484.87 L432.75 484.87 M427.94 491.05 L435.76 491.05" fill="none" stroke="#111" stroke-width="1.3" stroke-linecap="round" stroke-linejoin="round"/>
<path d="M512.61 481.50 L513.81 480.94 L515.61 479.25 L515.61 491.05 M523.43 482.06 L523.43 481.50 L524.03 480.37 L524.63 479.81 L525.84 479.25 L528.24 479.25 L529.44 479.81 L530.04 480.37 L530.65 481.50 L530.65 482.62 L530.04 483.75 L528.84 485.43 L522.83 491.05 L531.25 491.05 M538.46 479.25 L536.66 479.81 L535.46 481.50 L534.85 484.31 L534.85 485.99 L535.46 488.80 L536.66 490.49 L538.46 491.05 L539.66 491.05 L541.47 490.49 L542.67 488.80 L543.27 485.99 L543.27 484.31 L542.67 481.50 L541.47 479.81 L539.66 479.25 L538.46 479.25 M547.48 479.25 L547.48 491.05 M547.48 479.25 L555.30 479.25 M547.48 484.87 L552.29 484.87 M547.48 491.05 L555.30 491.05" fill="none" stroke="#111" stroke-width="1.3" stroke-linecap="round" stroke-linejoin="round"/>
<path d="M632.75 481.50 L633.95 480.94 L635.75 479.25 L635.75 491.05 M645.97 479.25 L644.17 479.81 L643.57 480.94 L643.57 482.06 L644.17 483.18 L645.37 483.75 L647.78 484.31 L649.58 484.87 L650.78 485.99 L651.38 487.12 L651.38 488.80 L650.78 489.93 L650.18 490.49 L648.38 491.05 L645.97 491.05 L644.17 490.49 L643.57 489.93 L642.97 488.80 L642.97 487.12 L643.57 485.99 L644.77 484.87 L646.57 484.31 L648.98 483.75 L650.18 483.18 L650.78 482.06 L650.78 480.94 L650.18 479.81 L648.38 479.25 L645.97 479.25 M658.60 479.25 L656.80 479.81 L655.59 481.50 L654.99 484.31 L654.99 485.99 L655.59 488.80 L656.80 490.49 L658.60 491.05 L659.80 491.05 L661.61 490.49 L662.81 488.80 L663.41 485.99 L663.41 484.31 L662.81 481.50 L661.61 479.81 L659.80 479.25 L658.60 479.25" fill="none" stroke="#111" stroke-width="1.3" stroke-linecap="round" stroke-linejoin="round"/>
<path d="M739.36 481.50 L740.56 480.94 L742.36 479.25 L742.36 491.05 M750.18 482.06 L750.18 481.50 L750.78 480.37 L751.38 479.81 L752.58 479.25 L754.99 479.25 L756.19 479.81 L756.79 480.37 L757.39 481.50 L757.39 482.62 L756.79 483.75 L755.59 485.43 L749.58 491.05 L758.00 491.05 M765.21 479.25 L763.41 479.81 L762.20 481.50 L761.60 484.31 L761.60 485.99 L762.20 488.80 L763.41 490.49 L765.21 491.05 L766.41 491.05 L768.22 490.49 L769.42 488.80 L770.02 485.99 L770.02 484.31 L769.42 481.50 L768.22 479.81 L766.41 479.25 L765.21 479.25 M773.03 479.25 L776.03 491.05 M779.04 479.25 L776.03 491.05 M779.04 479.25 L782.04 491.05 M785.05 479.25 L782.04 491.05" fill="none" stroke="#111" stroke-width="1.3" stroke-linecap="round" stroke-linejoin="round"/>
<path d="M866.11 480.94 L865.51 479.81 L863.70 479.25 L862.50 479.25 L860.70 479.81 L859.50 481.50 L858.89 484.31 L858.89 487.12 L859.50 489.36 L860.70 490.49 L862.50 491.05 L863.10 491.05 L864.91 490.49 L866.11 489.36 L866.71 487.68 L866.71 487.12 L866.11 485.43 L864.91 484.31 L863.10 483.75 L862.50 483.75 L860.70 484.31 L859.50 485.43 L858.89 487.12 M873.93 479.25 L872.12 479.81 L870.92 481.50 L870.32 484.31 L870.32 485.99 L870.92 488.80 L872.12 490.49 L873.93 491.05 L875.13 491.05 L876.93 490.49 L878.13 488.80 L878.73 485.99 L878.73 484.31 L878.13 481.50 L876.93 479.81 L875.13 479.25 L873.93 479.25 M881.74 479.25 L884.75 491.05 M887.75 479.25 L884.75 491.05 M887.75 479.25 L890.76 491.05 M893.77 479.25 L890.76 491.05" fill="none" stroke="#111" stroke-width="1.3" stroke-linecap="round" stroke-linejoin="round"/>
<path d="M193.95 421.55 L213.75 421.55 M193.95 421.55 L193.95 413.11 L194.89 410.30 L195.84 409.36 L197.72 408.42 L200.55 408.42 L202.44 409.36 L203.38 410.30 L204.32 413.11 L204.32 421.55 M200.55 401.86 L213.75 401.86 M206.21 401.86 L203.38 400.92 L201.49 399.05 L200.55 397.17 L200.55 394.36 M206.21 390.61 L206.21 379.36 L204.32 379.36 L202.44 380.30 L201.49 381.24 L200.55 383.11 L200.55 385.92 L201.49 387.80 L203.38 389.67 L206.21 390.61 L208.09 390.61 L210.92 389.67 L212.81 387.80 L213.75 385.92 L213.75 383.11 L212.81 381.24 L210.92 379.36 M203.38 363.42 L201.49 364.36 L200.55 367.17 L200.55 369.98 L201.49 372.80 L203.38 373.73 L205.26 372.80 L206.21 370.92 L207.15 366.23 L208.09 364.36 L209.98 363.42 L210.92 363.42 L212.81 364.36 L213.75 367.17 L213.75 369.98 L212.81 372.80 L210.92 373.73 M203.38 347.48 L201.49 348.42 L200.55 351.23 L200.55 354.05 L201.49 356.86 L203.38 357.80 L205.26 356.86 L206.21 354.98 L207.15 350.30 L208.09 348.42 L209.98 347.48 L210.92 347.48 L212.81 348.42 L213.75 351.23 L213.75 354.05 L212.81 356.86 L210.92 357.80 M200.55 340.92 L209.98 340.92 L212.81 339.98 L213.75 338.11 L213.75 335.29 L212.81 333.42 L209.98 330.61 M200.55 330.61 L213.75 330.61 M200.55 323.11 L213.75 323.11 M206.21 323.11 L203.38 322.17 L201.49 320.29 L200.55 318.42 L200.55 315.61 M206.21 311.86 L206.21 300.61 L204.32 300.61 L202.44 301.54 L201.49 302.48 L200.55 304.36 L200.55 307.17 L201.49 309.04 L203.38 310.92 L206.21 311.86 L208.09 311.86 L210.92 310.92 L212.81 309.04 L213.75 307.17 L213.75 304.36 L212.81 302.48 L210.92 300.61 M190.93 272.48 L192.72 274.35 L195.41 276.23 L198.99 278.10 L203.47 279.04 L207.06 279.04 L211.53 278.10 L215.12 276.23 L217.80 274.35 L219.60 272.48 M200.55 265.92 L213.75 265.92 M204.32 265.92 L201.49 263.10 L200.55 261.23 L200.55 258.42 L201.49 256.54 L204.32 255.60 L213.75 255.60 M204.32 255.60 L201.49 252.79 L200.55 250.91 L200.55 248.10 L201.49 246.23 L204.32 245.29 L213.75 245.29 M193.95 237.79 L213.75 237.79 M203.38 237.79 L201.49 235.91 L200.55 234.04 L200.55 231.23 L201.49 229.35 L203.38 227.48 L206.21 226.54 L208.09 226.54 L210.92 227.48 L212.81 229.35 L213.75 231.23 L213.75 234.04 L212.81 235.91 L210.92 237.79 M190.93 220.91 L192.72 219.04 L195.41 217.16 L198.99 215.29 L203.47 214.35 L207.06 214.35 L211.53 215.29 L215.12 217.16 L217.80 219.04 L219.60 220.91" fill="none" stroke="#111" stroke-width="1.3" stroke-linecap="round" stroke-linejoin="round"/>
<path d="M1047.45 402.95 L1067.35 402.95 M1047.45 389.79 L1067.35 389.79 M1056.93 402.95 L1056.93 389.79 M1059.77 383.20 L1059.77 371.92 L1057.87 371.92 L1055.98 372.86 L1055.03 373.80 L1054.08 375.68 L1054.08 378.50 L1055.03 380.38 L1056.93 382.26 L1059.77 383.20 L1061.66 383.20 L1064.51 382.26 L1066.40 380.38 L1067.35 378.50 L1067.35 375.68 L1066.40 373.80 L1064.51 371.92 M1047.45 366.28 L1048.40 365.34 L1047.45 364.40 L1046.50 365.34 L1047.45 366.28 M1054.08 365.34 L1067.35 365.34 M1054.08 347.47 L1069.25 347.47 L1072.09 348.41 L1073.04 349.35 L1073.98 351.23 L1073.98 354.05 L1073.04 355.93 M1056.93 347.47 L1055.03 349.35 L1054.08 351.23 L1054.08 354.05 L1055.03 355.93 L1056.93 357.81 L1059.77 358.75 L1061.66 358.75 L1064.51 357.81 L1066.40 355.93 L1067.35 354.05 L1067.35 351.23 L1066.40 349.35 L1064.51 347.47 M1047.45 339.95 L1067.35 339.95 M1057.87 339.95 L1055.03 337.13 L1054.08 335.25 L1054.08 332.43 L1055.03 330.54 L1057.87 329.60 L1067.35 329.60 M1047.45 321.14 L1063.56 321.14 L1066.40 320.20 L1067.35 318.32 L1067.35 316.44 M1054.08 323.96 L1054.08 317.38 M1044.42 289.17 L1046.22 291.05 L1048.92 292.93 L1052.52 294.81 L1057.02 295.75 L1060.62 295.75 L1065.12 294.81 L1068.72 292.93 L1071.42 291.05 L1073.23 289.17 M1047.45 282.59 L1067.35 282.59 M1054.08 273.18 L1063.56 282.59 M1059.77 278.83 L1067.35 272.24 M1054.08 266.60 L1067.35 266.60 M1057.87 266.60 L1055.03 263.78 L1054.08 261.90 L1054.08 259.08 L1055.03 257.20 L1057.87 256.26 L1067.35 256.26 M1057.87 256.26 L1055.03 253.44 L1054.08 251.56 L1054.08 248.74 L1055.03 246.85 L1057.87 245.91 L1067.35 245.91 M1044.42 239.33 L1046.22 237.45 L1048.92 235.57 L1052.52 233.69 L1057.02 232.75 L1060.62 232.75 L1065.12 233.69 L1068.72 235.57 L1071.42 237.45 L1073.23 239.33" fill="none" stroke="#111" stroke-width="1.3" stroke-linecap="round" stroke-linejoin="round"/>
<path d="M316.15 151.42 L315.42 149.95 L313.97 148.48 L312.51 147.75 L309.61 147.75 L308.16 148.48 L306.70 149.95 L305.98 151.42 L305.25 153.62 L305.25 157.28 L305.98 159.48 L306.70 160.95 L308.16 162.42 L309.61 163.15 L312.51 163.15 L313.97 162.42 L315.42 160.95 L316.15 159.48 M321.23 147.75 L321.23 163.15 M329.95 152.88 L328.50 153.62 L327.04 155.08 L326.32 157.28 L326.32 158.75 L327.04 160.95 L328.50 162.42 L329.95 163.15 L332.13 163.15 L333.58 162.42 L335.03 160.95 L335.76 158.75 L335.76 157.28 L335.03 155.08 L333.58 153.62 L332.13 152.88 L329.95 152.88 M340.84 152.88 L340.84 160.22 L341.57 162.42 L343.02 163.15 L345.20 163.15 L346.66 162.42 L348.84 160.22 M348.84 152.88 L348.84 163.15 M362.64 147.75 L362.64 163.15 M362.64 155.08 L361.18 153.62 L359.73 152.88 L357.55 152.88 L356.10 153.62 L354.65 155.08 L353.92 157.28 L353.92 158.75 L354.65 160.95 L356.10 162.42 L357.55 163.15 L359.73 163.15 L361.18 162.42 L362.64 160.95 M379.35 147.75 L380.07 148.48 L380.80 147.75 L380.07 147.02 L379.35 147.75 M380.07 152.88 L380.07 163.15 M393.87 155.08 L392.42 153.62 L390.97 152.88 L388.79 152.88 L387.34 153.62 L385.88 155.08 L385.16 157.28 L385.16 158.75 L385.88 160.95 L387.34 162.42 L388.79 163.15 L390.97 163.15 L392.42 162.42 L393.87 160.95 M398.23 157.28 L406.95 157.28 L406.95 155.82 L406.22 154.35 L405.50 153.62 L404.04 152.88 L401.86 152.88 L400.41 153.62 L398.96 155.08 L398.23 157.28 L398.23 158.75 L398.96 160.95 L400.41 162.42 L401.86 163.15 L404.04 163.15 L405.50 162.42 L406.95 160.95 M418.57 149.95 L418.57 163.15 M412.03 156.55 L425.11 156.55 M430.92 147.75 L430.92 163.15 M436.01 147.75 L436.73 148.48 L437.46 147.75 L436.73 147.02 L436.01 147.75 M436.73 152.88 L436.73 163.15 M450.53 152.88 L450.53 168.28 M450.53 155.08 L449.08 153.62 L447.63 152.88 L445.45 152.88 L444.00 153.62 L442.54 155.08 L441.82 157.28 L441.82 158.75 L442.54 160.95 L444.00 162.42 L445.45 163.15 L447.63 163.15 L449.08 162.42 L450.53 160.95 M456.35 152.88 L456.35 160.22 L457.07 162.42 L458.53 163.15 L460.70 163.15 L462.16 162.42 L464.34 160.22 M464.34 152.88 L464.34 163.15 M469.42 147.75 L470.15 148.48 L470.87 147.75 L470.15 147.02 L469.42 147.75 M470.15 152.88 L470.15 163.15 M483.95 147.75 L483.95 163.15 M483.95 155.08 L482.50 153.62 L481.04 152.88 L478.87 152.88 L477.41 153.62 L475.96 155.08 L475.23 157.28 L475.23 158.75 L475.96 160.95 L477.41 162.42 L478.87 163.15 L481.04 163.15 L482.50 162.42 L483.95 160.95" fill="none" stroke="#111" stroke-width="1.3" stroke-linecap="round" stroke-linejoin="round"/>
<path d="M944.29 152.82 L944.29 164.40 L943.56 166.57 L942.84 167.29 L941.38 168.02 L939.19 168.02 L937.74 167.29 M944.29 154.99 L942.84 153.54 L941.38 152.82 L939.19 152.82 L937.74 153.54 L936.28 154.99 L935.55 157.16 L935.55 158.61 L936.28 160.78 L937.74 162.23 L939.19 162.95 L941.38 162.95 L942.84 162.23 L944.29 160.78 M961.78 144.85 L948.66 168.02 M966.15 147.75 L966.15 162.95 M973.44 152.82 L966.15 160.05 M969.06 157.16 L974.16 162.95 M986.55 152.82 L986.55 164.40 L985.82 166.57 L985.09 167.29 L983.64 168.02 L981.45 168.02 L979.99 167.29 M986.55 154.99 L985.09 153.54 L983.64 152.82 L981.45 152.82 L979.99 153.54 L978.54 154.99 L977.81 157.16 L977.81 158.61 L978.54 160.78 L979.99 162.23 L981.45 162.95 L983.64 162.95 L985.09 162.23 L986.55 160.78" fill="none" stroke="#111" stroke-width="1.3" stroke-linecap="round" stroke-linejoin="round"/>
<text x="331.0" y="123.6" class="t" font-size="27.4" textLength="629.5" lengthAdjust="spacingAndGlyphs">CESM2B2_Oslo_FC55CLUBB_gamma0p238 (yrs 2-5)</text>
<path d="M522.60 496.20 L522.60 506.70 M522.60 496.20 L527.12 506.70 M531.64 496.20 L527.12 506.70 M531.64 496.20 L531.64 506.70 M536.17 496.20 L536.17 506.70 M540.69 496.20 L540.69 506.70 M540.69 496.20 L548.60 506.70 M548.60 496.20 L548.60 506.70" fill="none" stroke="#111" stroke-width="1.2" stroke-linecap="round" stroke-linejoin="round"/>
<path d="M561.20 500.70 L570.90 500.70 M561.20 503.70 L570.90 503.70" fill="none" stroke="#111" stroke-width="1.2" stroke-linecap="round" stroke-linejoin="round"/>
<path d="M603.65 496.20 L602.03 496.70 L600.94 498.20 L600.40 500.70 L600.40 502.20 L600.94 504.70 L602.03 506.20 L603.65 506.70 L604.74 506.70 L606.36 506.20 L607.45 504.70 L607.99 502.20 L607.99 500.70 L607.45 498.20 L606.36 496.70 L604.74 496.20 L603.65 496.20 M612.33 505.70 L611.79 506.20 L612.33 506.70 L612.87 506.20 L612.33 505.70 M619.92 496.20 L618.29 496.70 L617.21 498.20 L616.67 500.70 L616.67 502.20 L617.21 504.70 L618.29 506.20 L619.92 506.70 L621.00 506.70 L622.63 506.20 L623.71 504.70 L624.26 502.20 L624.26 500.70 L623.71 498.20 L622.63 496.70 L621.00 496.20 L619.92 496.20 M630.76 496.20 L629.14 496.70 L628.05 498.20 L627.51 500.70 L627.51 502.20 L628.05 504.70 L629.14 506.20 L630.76 506.70 L631.85 506.70 L633.47 506.20 L634.56 504.70 L635.10 502.20 L635.10 500.70 L634.56 498.20 L633.47 496.70 L631.85 496.20 L630.76 496.20" fill="none" stroke="#111" stroke-width="1.2" stroke-linecap="round" stroke-linejoin="round"/>
<path d="M655.50 496.20 L655.50 506.70 M655.50 496.20 L659.86 506.70 M664.23 496.20 L659.86 506.70 M664.23 496.20 L664.23 506.70 M671.32 496.20 L666.95 506.70 M671.32 496.20 L675.68 506.70 M668.59 503.20 L674.05 503.20 M677.86 496.20 L685.50 506.70 M677.86 506.70 L685.50 496.20" fill="none" stroke="#111" stroke-width="1.2" stroke-linecap="round" stroke-linejoin="round"/>
<path d="M697.60 500.70 L707.70 500.70 M697.60 503.70 L707.70 503.70" fill="none" stroke="#111" stroke-width="1.2" stroke-linecap="round" stroke-linejoin="round"/>
<path d="M740.57 496.20 L738.89 496.70 L737.76 498.20 L737.20 500.70 L737.20 502.20 L737.76 504.70 L738.89 506.20 L740.57 506.70 L741.70 506.70 L743.38 506.20 L744.51 504.70 L745.07 502.20 L745.07 500.70 L744.51 498.20 L743.38 496.70 L741.70 496.20 L740.57 496.20 M749.57 505.70 L749.00 506.20 L749.57 506.70 L750.13 506.20 L749.57 505.70 M755.75 498.20 L756.87 497.70 L758.56 496.20 L758.56 506.70 M766.99 498.20 L768.11 497.70 L769.80 496.20 L769.80 506.70" fill="none" stroke="#111" stroke-width="1.2" stroke-linecap="round" stroke-linejoin="round"/>
<rect x="309.7" y="523.6" width="42" height="10.7" fill="#00008b"/>
<rect x="351.7" y="523.6" width="42" height="10.7" fill="#0018b4"/>
<rect x="393.7" y="523.6" width="42" height="10.7" fill="#002ae0"/>
<rect x="435.7" y="523.6" width="42" height="10.7" fill="#1c50ff"/>
<rect x="477.7" y="523.6" width="42" height="10.7" fill="#4278fc"/>
<rect x="519.7" y="523.6" width="42" height="10.7" fill="#82a8fc"/>
<rect x="561.7" y="523.6" width="42" height="10.7" fill="#b4ceff"/>
<rect x="603.7" y="523.6" width="42" height="10.7" fill="#d6ebff"/>
<rect x="645.7" y="523.6" width="42" height="10.7" fill="#ffebd8"/>
<rect x="687.7" y="523.6" width="42" height="10.7" fill="#ffcab1"/>
<rect x="729.7" y="523.6" width="42" height="10.7" fill="#ffa27b"/>
<rect x="771.7" y="523.6" width="42" height="10.7" fill="#ff7440"/>
<rect x="813.7" y="523.6" width="42" height="10.7" fill="#fc4c18"/>
<rect x="855.7" y="523.6" width="42" height="10.7" fill="#de3004"/>
<rect x="897.7" y="523.6" width="42" height="10.7" fill="#b42204"/>
<rect x="939.7" y="523.6" width="42" height="10.7" fill="#8b0000"/>
<path d="M351.7 523.6 V534.3 M393.7 523.6 V534.3 M435.7 523.6 V534.3 M477.7 523.6 V534.3 M519.7 523.6 V534.3 M561.7 523.6 V534.3 M603.7 523.6 V534.3 M645.7 523.6 V534.3 M687.7 523.6 V534.3 M729.7 523.6 V534.3 M771.7 523.6 V534.3 M813.7 523.6 V534.3 M855.7 523.6 V534.3 M897.7 523.6 V534.3 M939.7 523.6 V534.3 " stroke="#000" stroke-width="1.1" fill="none"/>
<rect x="309.7" y="523.6" width="672" height="10.7" fill="none" stroke="#000" stroke-width="1.2"/>
<text transform="translate(352.2,553.5) scale(1.11,1)" class="c" text-anchor="middle" font-size="17.4">0.01</text>
<text transform="translate(436.2,553.5) scale(1.11,1)" class="c" text-anchor="middle" font-size="17.4">0.02</text>
<text transform="translate(520.2,553.5) scale(1.11,1)" class="c" text-anchor="middle" font-size="17.4">0.03</text>
<text transform="translate(604.2,553.5) scale(1.11,1)" class="c" text-anchor="middle" font-size="17.4">0.04</text>
<text transform="translate(688.2,553.5) scale(1.11,1)" class="c" text-anchor="middle" font-size="17.4">0.06</text>
<text transform="translate(772.2,553.5) scale(1.11,1)" class="c" text-anchor="middle" font-size="17.4">0.08</text>
<text transform="translate(856.2,553.5) scale(1.11,1)" class="c" text-anchor="middle" font-size="17.4">0.1</text>
<text transform="translate(940.2,553.5) scale(1.11,1)" class="c" text-anchor="middle" font-size="17.4">0.12</text>
<clipPath id="cp486"><rect x="306.0" y="185.8" width="680.0" height="264.4000000000001"/></clipPath>
<g clip-path="url(#cp486)" transform="translate(0,486)"><rect x="300" y="180" width="700" height="280" fill="#00008b"/><polygon points="298.9,378.0 305.4,378.0 307.7,378.6 311.6,381.7 314.3,381.1 323.0,375.4 325.6,374.8 329.0,377.4 330.1,379.6 331.4,387.5 331.8,391.7 332.7,403.9 332.6,408.7 331.3,419.2 330.4,423.3 327.3,431.9 326.0,435.0 323.0,440.7 321.8,442.3 319.2,444.5 317.7,444.5 313.3,442.3 311.6,441.2 307.7,438.2 305.4,437.5 298.9,437.5 297.5,428.6 297.5,386.9" fill="#0018b4"/><polygon points="298.9,386.0 305.4,386.0 307.8,386.5 312.6,388.7 315.3,387.6 323.1,380.7 325.5,379.9 328.5,383.4 329.4,385.7 330.7,392.6 331.2,396.0 331.9,404.6 331.8,408.6 330.6,418.1 329.8,421.8 326.7,429.6 325.3,432.7 321.8,439.2 320.5,440.8 317.9,441.7 316.6,441.5 313.2,439.8 311.6,438.8 307.7,436.2 305.4,435.7 298.9,435.7 297.5,428.2 297.5,393.5" fill="#002ae0"/><polygon points="298.9,394.1 305.4,394.1 307.9,394.5 313.2,396.2 315.9,394.7 323.2,386.0 325.4,384.9 328.0,388.4 328.8,390.8 330.1,398.6 330.5,401.6 330.9,407.7 330.8,410.5 329.8,417.4 328.9,420.6 326.1,428.4 324.7,431.3 321.2,436.9 319.8,438.3 316.8,439.2 314.7,438.6 308.2,434.6 305.4,433.8 298.9,433.8 297.5,427.8 297.5,400.1" fill="#1c50ff"/><polygon points="298.9,399.1 305.4,399.1 308.0,399.3 313.7,400.6 316.4,399.0 323.3,389.8 325.3,388.8 327.5,393.2 328.2,396.0 329.5,404.6 329.6,408.2 328.7,416.0 328.0,419.3 325.4,426.6 324.1,429.3 320.6,434.6 319.1,435.8 315.6,436.2 313.7,435.5 308.0,432.1 305.4,431.3 298.9,431.3 297.5,426.5 297.5,403.9" fill="#4278fc"/><polygon points="298.9,405.3 305.4,405.3 308.0,405.3 313.7,405.3 316.3,403.2 322.8,393.7 324.6,392.5 326.6,396.9 327.2,399.3 328.1,406.3 328.1,409.0 327.4,415.1 326.7,417.9 324.1,424.9 322.9,427.3 319.9,431.6 318.4,432.6 314.5,432.6 312.6,431.9 307.8,428.9 305.4,428.2 298.9,428.2 297.5,424.8 297.5,408.7" fill="#82a8fc"/><polygon points="298.9,407.7 305.4,407.7 307.5,408.9 310.5,414.1 311.7,416.3 314.3,421.5 314.2,423.1 311.2,425.3 310.0,425.5 307.4,424.2 305.4,423.9 298.9,423.9 297.5,421.5 297.5,410.2" fill="#b4ceff"/><polygon points="316.9,408.4 320.4,399.7 321.7,397.0 324.3,393.1 325.0,393.4 326.1,399.1 326.4,401.8 326.6,408.7 326.4,411.5 325.1,417.6 324.3,419.8 321.7,424.2 320.5,424.9 317.9,424.1 317.1,422.8 316.1,417.5 315.9,415.5 316.1,411.2" fill="#b4ceff"/><polygon points="319.9,410.8 320.6,412.7 320.1,415.2 319.5,412.7" fill="#d6ebff"/><polygon points="333.8,351.8 332.0,345.8 331.5,342.6 330.6,333.9 330.6,328.9 331.5,314.1 332.0,309.4 333.8,302.0 335.0,300.0 338.9,298.3 340.5,298.1 343.9,299.0 345.4,298.1 348.9,293.4 350.9,291.5 357.0,287.6 359.3,286.8 363.6,286.8 365.0,287.3 367.2,289.9 368.3,289.5 371.3,284.7 372.8,283.6 376.7,283.1 378.0,284.4 380.2,290.9 381.4,295.1 384.9,308.2 386.4,314.1 389.8,328.9 391.0,334.3 392.7,344.7 393.1,348.8 393.1,357.5 392.7,361.4 391.0,371.0 390.0,374.7 387.4,382.5 386.2,384.7 383.2,387.3 381.8,387.0 378.3,382.6 376.9,380.2 373.9,373.2 372.7,370.1 370.1,362.3 368.7,359.3 365.3,353.2 363.8,350.8 360.3,345.6 358.4,344.6 353.2,345.0 350.9,344.8 345.3,343.5 343.3,343.8 339.8,346.4 338.3,347.9 334.9,352.2" fill="#0018b4"/><polygon points="334.1,334.0 334.1,320.1 335.0,316.4 338.9,312.9 340.3,312.4 342.9,313.2 344.2,312.1 347.7,306.0 349.5,303.8 354.7,299.5 356.8,298.1 361.1,295.9 362.8,295.9 366.3,298.1 367.9,297.5 372.3,292.7 373.9,291.7 376.9,291.7 378.0,293.1 380.2,299.6 381.4,303.8 384.9,316.8 386.3,322.1 389.3,333.4 390.2,337.8 391.6,347.4 391.8,350.9 391.6,357.9 391.2,361.2 389.2,369.9 388.3,372.9 386.1,378.1 385.1,379.5 382.5,380.8 381.3,380.0 378.2,375.3 377.0,373.1 374.4,367.9 373.3,365.3 370.7,358.4 369.5,355.7 366.4,350.5 365.0,348.1 361.6,342.0 360.4,339.9 358.7,336.0 357.6,335.2 354.1,335.7 352.5,335.2 348.6,332.6 347.1,330.9 344.1,325.7 342.0,326.5 335.5,335.1" fill="#002ae0"/><polygon points="348.2,317.5 350.4,313.1 351.6,311.4 355.1,308.0 357.0,306.6 362.2,303.5 363.9,303.3 367.0,305.0 368.6,304.4 372.9,300.1 374.4,299.2 377.0,299.2 378.0,300.6 380.2,307.1 381.4,310.9 384.9,322.2 386.2,326.6 388.8,336.2 389.5,340.1 390.4,348.8 390.5,352.0 390.1,358.0 389.6,360.8 387.9,367.8 387.0,370.2 384.9,374.6 383.9,375.6 381.7,376.0 380.7,375.1 378.1,370.3 377.0,368.2 374.4,362.9 373.4,360.5 371.2,354.4 370.1,352.0 367.0,346.8 365.7,344.6 362.7,339.4 361.6,336.8 359.4,329.8 358.1,328.1 354.2,327.3 352.9,326.3 350.7,322.9 349.9,321.6 348.1,319.0" fill="#1c50ff"/><polygon points="354.1,317.6 357.6,316.7 358.9,315.5 361.5,310.7 362.4,309.9 364.2,310.8 365.0,311.3 367.2,313.1 368.5,312.7 372.4,309.2 373.9,308.5 376.9,308.5 378.2,310.1 381.3,318.0 382.6,321.1 385.6,328.1 386.6,331.2 388.0,339.1 388.5,342.2 389.0,349.2 389.0,352.0 388.5,358.0 388.0,360.5 386.6,365.7 385.8,367.4 383.6,370.5 382.8,371.1 381.0,371.1 380.1,370.3 377.5,366.4 376.4,364.3 373.8,358.2 372.7,355.6 370.1,349.5 368.7,347.1 365.3,341.9 364.1,339.8 361.9,335.5 361.1,332.9 359.8,325.0 358.6,322.5 354.3,318.6" fill="#4278fc"/><polygon points="371.8,327.0 374.0,320.9 374.9,319.2 377.1,317.0 378.0,317.4 380.2,321.3 381.4,324.0 384.9,332.7 385.9,336.0 387.2,343.0 387.5,345.9 387.8,352.9 387.6,355.5 386.5,360.7 385.8,362.6 383.6,366.0 382.7,366.9 380.5,367.3 379.5,366.6 376.9,362.7 375.8,360.3 373.2,353.4 372.1,350.4 370.0,343.5 369.4,340.9 369.0,335.6 369.2,333.6 371.0,329.3" fill="#82a8fc"/><polygon points="374.3,333.6 376.5,329.3 377.5,328.3 380.1,328.3 381.2,329.6 383.8,335.7 384.7,338.5 386.0,345.4 386.2,348.2 386.2,354.3 386.0,356.4 384.7,359.8 383.9,361.1 381.7,363.8 380.8,364.2 378.6,363.8 377.7,362.7 375.5,357.9 374.8,355.4 373.5,348.4 373.3,345.1 373.7,336.4" fill="#b4ceff"/><polygon points="376.7,342.3 378.4,337.9 379.4,337.0 382.0,337.0 382.9,338.5 384.6,345.4 384.9,348.2 384.7,354.3 384.2,356.4 382.3,359.8 381.4,360.8 379.3,361.6 378.4,360.9 376.4,356.6 375.9,354.7 375.5,350.4 375.6,348.5 376.2,344.1" fill="#d6ebff"/><polygon points="376.2,353.5 377.3,349.1 377.8,349.3 379.1,354.5 379.2,356.2 378.4,358.8 378.0,359.3 376.9,358.8 376.6,358.1 376.1,355.0" fill="#ffebd8"/><polygon points="361.7,317.9 362.7,315.8 363.2,315.9 364.3,319.0 364.4,321.5 364.0,330.2 363.6,332.2 362.3,333.1 361.9,331.8 361.0,324.9 360.9,322.6 361.3,319.1" fill="#82a8fc"/><polygon points="419.3,183.1 419.3,186.5 424.0,193.2 429.5,198.4 434.1,199.0 441.1,196.3 447.4,196.0 452.8,199.0 462.9,198.4 468.4,193.2 473.0,191.7 476.1,186.5 476.1,183.1" fill="#0018b4"/><polygon points="487.8,183.1 487.8,186.5 488.6,211.1 489.7,242.3 490.9,260.9 495.9,278.8 503.4,281.9 515.8,281.2 524.4,283.5 526.7,276.5 529.1,268.7 534.2,260.9 529.8,248.5 524.9,236.8 520.5,242.3 515.8,245.4 511.2,240.7 507.3,228.2 504.5,215.8 503.9,200.2 504.9,186.5 504.9,183.1" fill="#0018b4"/><polygon points="549.0,183.1 549.0,186.5 551.6,203.3 552.4,223.6 547.7,242.3 545.1,260.2 549.3,268.7 553.2,277.3 557.9,277.7 565.6,281.9 572.6,285.1 578.1,283.5 582.5,279.6 584.0,270.3 585.9,260.9 581.2,248.5 572.6,231.4 564.9,223.6 565.6,204.1 571.9,204.9 577.3,197.1 582.8,186.5 582.8,183.1" fill="#0018b4"/><polygon points="838.2,183.1 838.2,186.6 846.1,189.4 850.0,197.2 853.1,209.8 857.0,216.8 860.2,206.6 864.1,195.7 866.7,186.6 866.7,183.1" fill="#0018b4"/><polygon points="851.5,227.0 857.0,227.0 861.7,239.6 867.2,244.3 872.7,253.7 877.7,261.5 879.3,274.0 877.4,288.2 869.6,296.0 863.3,299.9 858.6,308.5 852.3,317.9 849.2,333.6 846.8,349.3 842.9,361.0 837.4,357.1 837.4,338.3 842.1,321.1 840.6,305.4 840.1,274.0 842.9,250.5 847.6,230.2" fill="#0018b4"/><polygon points="850.6,249.1 853.3,249.6 854.8,251.0 859.2,257.1 860.4,260.7 861.8,271.7 861.6,275.9 859.8,284.7 858.7,288.5 855.4,297.2 853.7,301.2 849.3,311.1 847.7,312.1 844.4,306.6 843.5,303.0 842.4,292.1 842.1,287.4 842.1,276.4 842.6,271.7 844.8,260.7 846.0,257.0 849.3,250.4" fill="#002ae0"/><polygon points="848.3,266.6 851.6,265.0 852.6,266.5 853.7,275.3 853.5,279.1 851.9,287.8 850.9,291.2 848.2,298.4 847.1,298.4 845.0,291.2 844.3,288.1 843.6,280.4 844.0,277.0 847.0,268.8" fill="#1c50ff"/><polygon points="842.6,325.4 844.8,330.9 845.3,333.4 845.7,340.0 845.4,342.9 844.0,349.4 843.3,349.9 841.4,345.5 841.0,342.9 840.6,335.3 840.8,332.2 841.9,325.6" fill="#002ae0"/><polygon points="886.1,279.4 889.9,275.0 891.0,275.2 892.1,280.7 892.2,284.6 891.9,297.2 891.4,300.1 889.6,301.2 888.6,301.1 885.8,299.5 885.2,296.3 885.2,283.1" fill="#0018b4"/><polygon points="726.9,392.8 729.7,388.7 731.6,386.6 737.3,380.9 740.1,378.6 747.5,373.2 750.8,371.1 758.9,366.6 762.8,365.2 772.6,362.7 777.2,362.1 788.6,361.7 792.8,361.9 801.0,363.6 803.9,364.6 809.7,367.9 811.6,369.3 814.9,372.6 816.3,373.5 819.5,374.8 820.8,376.2 823.2,382.0 824.3,384.9 826.7,393.1 827.5,395.7 828.7,399.8 829.3,399.5 831.0,393.8 831.7,390.3 833.3,379.6 833.8,379.1 834.6,387.3 835.0,390.8 835.8,398.9 836.2,402.5 837.0,410.6 837.3,413.8 838.2,420.3 838.3,424.6 838.3,438.1 837.7,441.0 834.9,441.0 834.2,442.6 834.2,450.4 832.5,452.1 824.3,452.1 821.0,450.3 813.6,442.1 810.1,439.0 801.1,432.5 797.3,429.6 788.3,423.1 783.9,420.8 772.5,416.8 767.2,415.0 754.2,410.9 748.9,409.3 737.5,406.1 733.8,404.8 728.1,401.9 726.8,400.1 726.4,394.8" fill="#0018b4"/><polygon points="738.6,393.3 741.9,388.8 743.9,386.6 750.0,380.9 753.1,378.5 761.3,372.7 765.0,370.8 773.9,367.5 778.2,366.8 788.8,366.4 792.6,366.6 800.0,368.2 802.6,369.4 807.5,373.1 809.4,374.7 813.5,378.8 815.3,381.1 819.4,387.6 820.9,390.8 824.2,398.9 825.5,402.1 828.4,408.6 829.4,408.8 831.5,403.1 832.3,400.8 833.9,395.9 834.5,396.6 835.7,404.8 836.2,408.5 837.0,417.5 837.2,421.5 837.5,431.3 837.3,434.8 836.2,441.3 835.6,444.1 834.0,450.7 832.2,452.1 825.2,452.1 822.2,450.0 814.8,440.7 811.3,437.1 802.3,430.2 798.5,427.3 789.5,420.8 784.9,418.3 772.7,413.4 767.6,411.5 756.1,407.4 751.8,405.8 742.8,402.6 740.4,400.7 738.4,395.4" fill="#002ae0"/><polygon points="747.4,393.3 750.7,388.8 752.6,386.7 758.3,381.4 760.9,379.3 767.5,374.8 770.3,373.3 776.8,370.7 780.3,370.1 790.1,369.8 793.6,370.2 800.2,372.2 802.4,373.5 806.5,377.1 808.3,379.0 812.4,383.9 814.1,386.4 818.2,393.4 819.9,396.6 823.5,404.8 825.0,407.9 828.3,414.5 829.4,414.8 831.5,409.9 832.3,408.0 833.9,403.9 834.5,404.4 835.4,411.0 835.8,414.1 836.4,422.3 836.6,425.6 836.8,433.0 836.6,435.8 835.6,441.5 835.1,444.1 833.4,450.7 831.8,452.1 826.1,452.1 823.3,449.9 816.0,439.7 812.5,435.9 803.5,428.5 799.6,425.6 790.6,419.0 785.9,416.5 772.8,411.2 767.9,409.2 758.1,405.1 755.0,403.7 750.1,401.2 748.7,399.7 747.0,395.2" fill="#1c50ff"/><polygon points="754.2,393.5 756.7,389.8 758.2,388.0 763.2,383.1 765.4,381.1 771.1,377.1 773.6,375.7 779.3,373.7 782.3,373.2 790.5,373.0 793.4,373.3 799.2,375.2 801.3,376.4 805.4,380.1 807.0,381.9 810.7,386.8 812.4,389.4 816.4,396.8 818.2,400.1 822.3,408.3 824.0,411.6 828.1,419.0 829.4,419.7 831.5,415.6 832.3,414.0 833.9,410.7 834.4,411.4 835.2,418.0 835.5,420.8 835.9,427.3 836.0,429.8 836.0,434.7 835.8,436.8 835.0,441.7 834.5,444.1 832.8,450.7 831.5,452.1 827.0,452.1 824.5,449.7 817.1,438.7 813.6,434.7 804.6,427.4 800.8,424.4 791.8,417.9 787.6,415.5 777.0,411.0 772.3,409.1 760.8,404.6 757.9,403.0 755.9,400.1 755.2,398.7 754.0,395.1" fill="#4278fc"/><polygon points="759.4,393.6 761.4,390.3 762.7,388.7 766.8,384.6 768.8,383.0 773.7,379.3 775.8,378.1 780.7,376.3 783.3,375.9 790.6,375.7 793.3,376.0 798.2,377.6 800.1,378.7 804.2,382.4 805.8,384.2 809.5,389.1 811.1,391.8 814.8,399.1 816.5,402.5 821.0,410.6 823.0,414.1 827.9,422.3 829.4,423.3 831.5,420.1 832.3,418.9 833.9,416.4 834.4,417.1 835.0,422.8 835.2,425.4 835.4,432.0 835.2,434.6 834.4,440.3 833.9,443.1 832.3,450.5 831.2,452.1 827.9,452.1 825.7,449.5 818.3,437.7 814.8,433.6 805.8,426.2 802.0,423.2 793.0,416.7 788.9,414.4 779.1,410.3 774.8,408.5 764.1,404.0 761.6,402.4 760.4,399.6 759.9,398.2 759.1,395.0" fill="#82a8fc"/><polygon points="763.5,393.7 765.5,390.8 766.7,389.5 769.9,386.2 771.6,384.8 776.1,381.6 777.9,380.5 782.0,378.9 784.3,378.4 790.8,378.0 793.2,378.3 797.7,379.9 799.4,381.1 803.1,384.7 804.7,386.6 808.4,391.5 809.9,394.1 813.6,401.5 815.4,404.8 819.9,413.0 822.0,416.5 827.8,425.1 829.4,426.4 831.5,424.0 832.2,423.0 833.7,421.0 834.1,421.8 834.7,427.5 834.8,429.9 834.5,435.7 834.3,437.8 833.3,441.8 832.8,443.9 831.6,449.7 830.8,450.9 828.3,450.9 826.3,448.4 819.4,436.5 816.0,432.4 807.0,425.0 803.1,422.1 794.1,415.5 790.3,413.3 781.3,409.7 777.5,408.1 768.5,404.4 766.2,402.9 764.6,399.6 764.0,398.2 763.2,395.0" fill="#b4ceff"/><polygon points="767.6,393.8 769.6,391.3 770.7,390.2 773.5,387.3 774.9,386.1 778.6,383.5 780.1,382.7 783.3,381.4 785.3,381.0 791.0,380.7 793.1,380.9 797.2,382.3 798.8,383.3 802.0,386.6 803.5,388.4 807.2,393.7 808.8,396.4 812.4,403.3 814.2,406.5 818.7,414.7 821.1,418.5 827.6,427.9 829.4,429.4 831.5,427.4 832.2,426.7 833.5,425.5 833.8,426.3 834.2,431.2 834.2,433.1 833.7,437.2 833.4,438.8 832.2,442.5 831.6,444.1 829.9,447.8 828.2,446.3 821.6,435.7 818.1,431.7 808.3,424.0 804.3,420.9 795.3,414.4 791.6,412.3 783.5,409.0 780.1,407.6 772.8,404.3 770.9,402.9 769.2,399.6 768.6,398.2 767.4,395.0" fill="#d6ebff"/><polygon points="775.4,393.2 778.7,390.7 780.3,389.9 784.3,388.4 786.8,388.1 794.1,387.9 796.4,388.4 799.7,390.8 801.1,392.4 804.4,397.3 805.9,399.9 810.0,407.3 811.9,410.8 816.8,419.8 817.5,422.5 815.9,426.2 815.0,427.1 812.6,427.5 811.2,426.9 807.1,424.1 805.4,422.3 801.3,417.0 799.3,414.8 794.4,409.9 792.2,408.3 786.4,405.9 784.1,405.0 778.8,403.4 777.4,402.2 776.1,398.6 775.7,397.2 774.9,394.3" fill="#ffebd8"/><polygon points="784.7,393.6 788.0,392.9 789.8,392.8 794.7,393.1 796.4,393.9 799.7,397.6 801.1,399.4 804.4,404.3 805.8,406.6 809.5,412.3 811.1,414.7 814.8,420.0 815.3,421.5 814.1,423.1 813.2,423.5 810.3,423.5 809.0,422.9 805.8,420.0 804.2,418.2 800.1,412.4 798.3,410.6 794.3,407.7 792.3,406.8 787.4,405.1 785.8,404.5 782.9,403.3 782.4,402.3 782.8,399.1 783.1,397.7 783.9,394.4" fill="#ffcab1"/><polygon points="822.0,431.6 824.3,428.1 827.2,433.4 829.0,436.9 831.3,432.2 833.7,429.3 833.1,434.6 829.6,441.0 827.2,439.2 823.7,434.6" fill="#ffebd8"/><polygon points="791.1,402.9 793.9,402.0 795.3,402.0 798.5,402.9 798.5,403.2 795.3,404.0 793.9,404.0 791.1,403.2" fill="#ffa27b"/><polygon points="988.5,367.3 986.0,367.3 984.7,366.7 981.2,363.9 979.8,363.0 976.7,361.5 975.5,361.2 972.4,361.5 970.9,362.2 966.9,365.2 965.0,366.6 959.9,370.1 957.9,371.7 953.4,375.8 951.9,377.7 949.3,382.7 948.4,384.7 946.7,388.7 946.1,390.3 945.4,393.8 945.5,395.4 947.0,399.5 948.0,401.1 951.0,404.6 952.5,406.0 956.6,409.0 958.3,410.2 962.3,412.4 964.1,413.7 968.7,417.5 970.6,419.0 975.1,422.6 977.5,424.4 984.0,429.4 986.0,430.5 988.5,430.5 989.0,421.0 989.0,376.8" fill="#0018b4"/><polygon points="988.5,373.7 986.0,373.7 984.5,373.0 979.9,369.5 977.9,368.7 972.9,368.4 970.9,369.1 966.9,372.6 965.0,374.4 959.9,379.2 958.2,381.3 955.2,386.3 954.1,388.5 951.8,393.5 951.7,395.4 953.5,399.5 954.6,401.1 958.1,404.9 959.7,406.3 963.7,408.8 965.5,410.0 969.5,413.3 971.3,414.7 975.9,418.3 978.1,420.2 984.2,425.7 986.0,426.9 988.5,426.9 989.0,418.9 989.0,381.7" fill="#002ae0"/><polygon points="988.5,380.2 986.0,380.2 984.2,379.3 978.1,375.3 976.1,374.5 972.5,374.5 971.0,375.2 967.5,378.7 965.8,380.5 961.3,385.0 959.6,387.1 956.6,392.7 956.5,394.9 959.0,400.0 960.4,401.7 964.5,404.7 966.1,405.9 969.6,408.7 971.0,409.8 974.0,412.4 975.5,413.4 979.6,415.6 980.8,416.9 982.9,420.4 983.6,421.6 985.1,423.6 986.0,424.0 988.5,424.0 989.0,417.5 989.0,386.8" fill="#1c50ff"/><polygon points="988.5,388.1 986.0,388.1 984.2,387.2 978.1,382.9 976.1,382.1 972.5,382.3 971.0,383.2 967.5,387.2 966.0,389.0 962.5,393.0 962.2,394.9 964.2,400.0 965.5,401.8 969.5,405.3 971.2,406.8 975.2,410.3 976.9,411.4 980.4,412.9 981.5,414.0 983.0,417.5 983.6,418.7 985.1,420.7 986.0,421.2 988.5,421.2 989.0,416.2 989.0,393.1" fill="#4278fc"/><polygon points="988.5,396.0 986.0,396.0 984.2,395.0 978.1,390.2 976.1,389.2 972.5,389.5 971.1,390.3 967.8,393.8 967.4,395.5 968.6,400.1 969.5,401.7 972.0,404.7 973.2,405.8 976.2,407.8 977.5,408.3 980.5,408.5 981.5,409.3 983.0,412.6 983.5,413.8 984.5,416.3 985.4,416.9 988.4,416.9 989.0,413.7 989.0,399.1" fill="#82a8fc"/><rect x="324.8" y="441.0" width="62.1" height="11.0" fill="#000"/><rect x="329.8" y="431.6" width="52.1" height="20.4" fill="#000"/><rect x="348.4" y="422.0" width="33.5" height="30.0" fill="#000"/><rect x="367.6" y="412.5" width="14.3" height="39.5" fill="#000"/><rect x="491.5" y="441.0" width="61.5" height="11.0" fill="#000"/><rect x="834.0" y="441.1" width="61.6" height="10.9" fill="#000"/><rect x="838.6" y="422.2" width="9.5" height="29.8" fill="#000"/></g>
<rect x="306.0" y="671.8" width="680.0" height="264.4000000000001" fill="none" stroke="#000" stroke-width="2.2"/>
<path d="M305.7 936.2 V953.2 M305.7 671.8 V655.3" stroke="#000" stroke-width="2.2" fill="none"/>
<path d="M362.8 936.2 V944.7 M362.8 671.8 V663.3" stroke="#000" stroke-width="1.2" fill="none"/>
<path d="M419.8 936.2 V953.2 M419.8 671.8 V655.3" stroke="#000" stroke-width="2.2" fill="none"/>
<path d="M476.9 936.2 V944.7 M476.9 671.8 V663.3" stroke="#000" stroke-width="1.2" fill="none"/>
<path d="M534.0 936.2 V953.2 M534.0 671.8 V655.3" stroke="#000" stroke-width="2.2" fill="none"/>
<path d="M591.0 936.2 V944.7 M591.0 671.8 V663.3" stroke="#000" stroke-width="1.2" fill="none"/>
<path d="M648.1 936.2 V953.2 M648.1 671.8 V655.3" stroke="#000" stroke-width="2.2" fill="none"/>
<path d="M705.1 936.2 V944.7 M705.1 671.8 V663.3" stroke="#000" stroke-width="1.2" fill="none"/>
<path d="M762.2 936.2 V953.2 M762.2 671.8 V655.3" stroke="#000" stroke-width="2.2" fill="none"/>
<path d="M819.3 936.2 V944.7 M819.3 671.8 V663.3" stroke="#000" stroke-width="1.2" fill="none"/>
<path d="M876.3 936.2 V953.2 M876.3 671.8 V655.3" stroke="#000" stroke-width="2.2" fill="none"/>
<path d="M933.4 936.2 V944.7 M933.4 671.8 V663.3" stroke="#000" stroke-width="1.2" fill="none"/>
<path d="M306.0 671.8 H289.0" stroke="#000" stroke-width="2.2" fill="none"/>
<path d="M246.22 665.85 L252.89 665.85 L249.25 670.38 L251.07 670.38 L252.28 670.95 L252.89 671.52 L253.50 673.22 L253.50 674.35 L252.89 676.05 L251.68 677.18 L249.86 677.75 L248.04 677.75 L246.22 677.18 L245.61 676.62 L245.01 675.48 M260.77 665.85 L258.95 666.42 L257.74 668.12 L257.13 670.95 L257.13 672.65 L257.74 675.48 L258.95 677.18 L260.77 677.75 L261.99 677.75 L263.80 677.18 L265.02 675.48 L265.62 672.65 L265.62 670.95 L265.02 668.12 L263.80 666.42 L261.99 665.85 L260.77 665.85 M272.90 665.85 L271.08 666.42 L269.87 668.12 L269.26 670.95 L269.26 672.65 L269.87 675.48 L271.08 677.18 L272.90 677.75 L274.11 677.75 L275.93 677.18 L277.14 675.48 L277.75 672.65 L277.75 670.95 L277.14 668.12 L275.93 666.42 L274.11 665.85 L272.90 665.85" fill="none" stroke="#111" stroke-width="1.3" stroke-linecap="round" stroke-linejoin="round"/>
<path d="M306.0 709.6 H289.0" stroke="#000" stroke-width="2.2" fill="none"/>
<path d="M251.07 703.62 L245.01 711.55 L254.10 711.55 M251.07 703.62 L251.07 715.52 M260.77 703.62 L258.95 704.19 L257.74 705.89 L257.13 708.72 L257.13 710.42 L257.74 713.25 L258.95 714.95 L260.77 715.52 L261.99 715.52 L263.80 714.95 L265.02 713.25 L265.62 710.42 L265.62 708.72 L265.02 705.89 L263.80 704.19 L261.99 703.62 L260.77 703.62 M272.90 703.62 L271.08 704.19 L269.87 705.89 L269.26 708.72 L269.26 710.42 L269.87 713.25 L271.08 714.95 L272.90 715.52 L274.11 715.52 L275.93 714.95 L277.14 713.25 L277.75 710.42 L277.75 708.72 L277.14 705.89 L275.93 704.19 L274.11 703.62 L272.90 703.62" fill="none" stroke="#111" stroke-width="1.3" stroke-linecap="round" stroke-linejoin="round"/>
<path d="M306.0 747.3 H289.0" stroke="#000" stroke-width="2.2" fill="none"/>
<path d="M252.28 741.39 L246.22 741.39 L245.61 746.49 L246.22 745.93 L248.04 745.36 L249.86 745.36 L251.68 745.93 L252.89 747.06 L253.50 748.76 L253.50 749.89 L252.89 751.59 L251.68 752.73 L249.86 753.29 L248.04 753.29 L246.22 752.73 L245.61 752.16 L245.01 751.03 M260.77 741.39 L258.95 741.96 L257.74 743.66 L257.13 746.49 L257.13 748.19 L257.74 751.03 L258.95 752.73 L260.77 753.29 L261.99 753.29 L263.80 752.73 L265.02 751.03 L265.62 748.19 L265.62 746.49 L265.02 743.66 L263.80 741.96 L261.99 741.39 L260.77 741.39 M272.90 741.39 L271.08 741.96 L269.87 743.66 L269.26 746.49 L269.26 748.19 L269.87 751.03 L271.08 752.73 L272.90 753.29 L274.11 753.29 L275.93 752.73 L277.14 751.03 L277.75 748.19 L277.75 746.49 L277.14 743.66 L275.93 741.96 L274.11 741.39 L272.90 741.39" fill="none" stroke="#111" stroke-width="1.3" stroke-linecap="round" stroke-linejoin="round"/>
<path d="M306.0 822.9 H289.0" stroke="#000" stroke-width="2.2" fill="none"/>
<path d="M253.50 816.94 L247.43 828.84 M245.01 816.94 L253.50 816.94 M260.77 816.94 L258.95 817.50 L257.74 819.20 L257.13 822.04 L257.13 823.74 L257.74 826.57 L258.95 828.27 L260.77 828.84 L261.99 828.84 L263.80 828.27 L265.02 826.57 L265.62 823.74 L265.62 822.04 L265.02 819.20 L263.80 817.50 L261.99 816.94 L260.77 816.94 M272.90 816.94 L271.08 817.50 L269.87 819.20 L269.26 822.04 L269.26 823.74 L269.87 826.57 L271.08 828.27 L272.90 828.84 L274.11 828.84 L275.93 828.27 L277.14 826.57 L277.75 823.74 L277.75 822.04 L277.14 819.20 L275.93 817.50 L274.11 816.94 L272.90 816.94" fill="none" stroke="#111" stroke-width="1.3" stroke-linecap="round" stroke-linejoin="round"/>
<path d="M306.0 879.5 H289.0" stroke="#000" stroke-width="2.2" fill="none"/>
<path d="M248.04 873.59 L246.22 874.16 L245.61 875.29 L245.61 876.43 L246.22 877.56 L247.43 878.13 L249.86 878.69 L251.68 879.26 L252.89 880.39 L253.50 881.53 L253.50 883.23 L252.89 884.36 L252.28 884.93 L250.46 885.49 L248.04 885.49 L246.22 884.93 L245.61 884.36 L245.01 883.23 L245.01 881.53 L245.61 880.39 L246.83 879.26 L248.65 878.69 L251.07 878.13 L252.28 877.56 L252.89 876.43 L252.89 875.29 L252.28 874.16 L250.46 873.59 L248.04 873.59 M264.41 873.59 L258.35 873.59 L257.74 878.69 L258.35 878.13 L260.17 877.56 L261.99 877.56 L263.80 878.13 L265.02 879.26 L265.62 880.96 L265.62 882.09 L265.02 883.79 L263.80 884.93 L261.99 885.49 L260.17 885.49 L258.35 884.93 L257.74 884.36 L257.13 883.23 M272.90 873.59 L271.08 874.16 L269.87 875.86 L269.26 878.69 L269.26 880.39 L269.87 883.23 L271.08 884.93 L272.90 885.49 L274.11 885.49 L275.93 884.93 L277.14 883.23 L277.75 880.39 L277.75 878.69 L277.14 875.86 L275.93 874.16 L274.11 873.59 L272.90 873.59" fill="none" stroke="#111" stroke-width="1.3" stroke-linecap="round" stroke-linejoin="round"/>
<path d="M306.0 936.2 H289.0" stroke="#000" stroke-width="2.2" fill="none"/>
<path d="M234.70 932.52 L235.91 931.95 L237.73 930.25 L237.73 942.15 M248.65 930.25 L246.83 930.82 L245.61 932.52 L245.01 935.35 L245.01 937.05 L245.61 939.88 L246.83 941.58 L248.65 942.15 L249.86 942.15 L251.68 941.58 L252.89 939.88 L253.50 937.05 L253.50 935.35 L252.89 932.52 L251.68 930.82 L249.86 930.25 L248.65 930.25 M260.77 930.25 L258.95 930.82 L257.74 932.52 L257.13 935.35 L257.13 937.05 L257.74 939.88 L258.95 941.58 L260.77 942.15 L261.99 942.15 L263.80 941.58 L265.02 939.88 L265.62 937.05 L265.62 935.35 L265.02 932.52 L263.80 930.82 L261.99 930.25 L260.77 930.25 M272.90 930.25 L271.08 930.82 L269.87 932.52 L269.26 935.35 L269.26 937.05 L269.87 939.88 L271.08 941.58 L272.90 942.15 L274.11 942.15 L275.93 941.58 L277.14 939.88 L277.75 937.05 L277.75 935.35 L277.14 932.52 L275.93 930.82 L274.11 930.25 L272.90 930.25" fill="none" stroke="#111" stroke-width="1.3" stroke-linecap="round" stroke-linejoin="round"/>
<path d="M986.0 693.0 H1002.7" stroke="#000" stroke-width="2.2" fill="none"/>
<path d="M1017.33 687.05 L1015.42 687.63 L1014.79 688.78 L1014.79 689.93 L1015.42 691.08 L1016.69 691.66 L1019.24 692.24 L1021.14 692.81 L1022.41 693.96 L1023.05 695.12 L1023.05 696.85 L1022.41 698.00 L1021.78 698.57 L1019.87 699.15 L1017.33 699.15 L1015.42 698.57 L1014.79 698.00 L1014.15 696.85 L1014.15 695.12 L1014.79 693.96 L1016.06 692.81 L1017.96 692.24 L1020.51 691.66 L1021.78 691.08 L1022.41 689.93 L1022.41 688.78 L1021.78 687.63 L1019.87 687.05 L1017.33 687.05" fill="none" stroke="#111" stroke-width="1.3" stroke-linecap="round" stroke-linejoin="round"/>
<path d="M986.0 791.4 H1002.7" stroke="#000" stroke-width="2.2" fill="none"/>
<path d="M1020.08 785.45 L1014.15 793.52 L1023.05 793.52 M1020.08 785.45 L1020.08 797.55" fill="none" stroke="#111" stroke-width="1.3" stroke-linecap="round" stroke-linejoin="round"/>
<path d="M305.10 965.25 L303.30 965.81 L302.09 967.50 L301.49 970.31 L301.49 971.99 L302.09 974.80 L303.30 976.49 L305.10 977.05 L306.30 977.05 L308.10 976.49 L309.31 974.80 L309.91 971.99 L309.91 970.31 L309.31 967.50 L308.10 965.81 L306.30 965.25 L305.10 965.25" fill="none" stroke="#111" stroke-width="1.3" stroke-linecap="round" stroke-linejoin="round"/>
<path d="M411.11 966.94 L410.51 965.81 L408.70 965.25 L407.50 965.25 L405.70 965.81 L404.49 967.50 L403.89 970.31 L403.89 973.12 L404.49 975.36 L405.70 976.49 L407.50 977.05 L408.10 977.05 L409.91 976.49 L411.11 975.36 L411.71 973.68 L411.71 973.12 L411.11 971.43 L409.91 970.31 L408.10 969.75 L407.50 969.75 L405.70 970.31 L404.49 971.43 L403.89 973.12 M418.92 965.25 L417.12 965.81 L415.92 967.50 L415.32 970.31 L415.32 971.99 L415.92 974.80 L417.12 976.49 L418.92 977.05 L420.13 977.05 L421.93 976.49 L423.13 974.80 L423.73 971.99 L423.73 970.31 L423.13 967.50 L421.93 965.81 L420.13 965.25 L418.92 965.25 M427.94 965.25 L427.94 977.05 M427.94 965.25 L435.76 965.25 M427.94 970.87 L432.75 970.87 M427.94 977.05 L435.76 977.05" fill="none" stroke="#111" stroke-width="1.3" stroke-linecap="round" stroke-linejoin="round"/>
<path d="M512.61 967.50 L513.81 966.94 L515.61 965.25 L515.61 977.05 M523.43 968.06 L523.43 967.50 L524.03 966.37 L524.63 965.81 L525.84 965.25 L528.24 965.25 L529.44 965.81 L530.04 966.37 L530.65 967.50 L530.65 968.62 L530.04 969.75 L528.84 971.43 L522.83 977.05 L531.25 977.05 M538.46 965.25 L536.66 965.81 L535.46 967.50 L534.85 970.31 L534.85 971.99 L535.46 974.80 L536.66 976.49 L538.46 977.05 L539.66 977.05 L541.47 976.49 L542.67 974.80 L543.27 971.99 L543.27 970.31 L542.67 967.50 L541.47 965.81 L539.66 965.25 L538.46 965.25 M547.48 965.25 L547.48 977.05 M547.48 965.25 L555.30 965.25 M547.48 970.87 L552.29 970.87 M547.48 977.05 L555.30 977.05" fill="none" stroke="#111" stroke-width="1.3" stroke-linecap="round" stroke-linejoin="round"/>
<path d="M632.75 967.50 L633.95 966.94 L635.75 965.25 L635.75 977.05 M645.97 965.25 L644.17 965.81 L643.57 966.94 L643.57 968.06 L644.17 969.18 L645.37 969.75 L647.78 970.31 L649.58 970.87 L650.78 971.99 L651.38 973.12 L651.38 974.80 L650.78 975.93 L650.18 976.49 L648.38 977.05 L645.97 977.05 L644.17 976.49 L643.57 975.93 L642.97 974.80 L642.97 973.12 L643.57 971.99 L644.77 970.87 L646.57 970.31 L648.98 969.75 L650.18 969.18 L650.78 968.06 L650.78 966.94 L650.18 965.81 L648.38 965.25 L645.97 965.25 M658.60 965.25 L656.80 965.81 L655.59 967.50 L654.99 970.31 L654.99 971.99 L655.59 974.80 L656.80 976.49 L658.60 977.05 L659.80 977.05 L661.61 976.49 L662.81 974.80 L663.41 971.99 L663.41 970.31 L662.81 967.50 L661.61 965.81 L659.80 965.25 L658.60 965.25" fill="none" stroke="#111" stroke-width="1.3" stroke-linecap="round" stroke-linejoin="round"/>
<path d="M739.36 967.50 L740.56 966.94 L742.36 965.25 L742.36 977.05 M750.18 968.06 L750.18 967.50 L750.78 966.37 L751.38 965.81 L752.58 965.25 L754.99 965.25 L756.19 965.81 L756.79 966.37 L757.39 967.50 L757.39 968.62 L756.79 969.75 L755.59 971.43 L749.58 977.05 L758.00 977.05 M765.21 965.25 L763.41 965.81 L762.20 967.50 L761.60 970.31 L761.60 971.99 L762.20 974.80 L763.41 976.49 L765.21 977.05 L766.41 977.05 L768.22 976.49 L769.42 974.80 L770.02 971.99 L770.02 970.31 L769.42 967.50 L768.22 965.81 L766.41 965.25 L765.21 965.25 M773.03 965.25 L776.03 977.05 M779.04 965.25 L776.03 977.05 M779.04 965.25 L782.04 977.05 M785.05 965.25 L782.04 977.05" fill="none" stroke="#111" stroke-width="1.3" stroke-linecap="round" stroke-linejoin="round"/>
<path d="M866.11 966.94 L865.51 965.81 L863.70 965.25 L862.50 965.25 L860.70 965.81 L859.50 967.50 L858.89 970.31 L858.89 973.12 L859.50 975.36 L860.70 976.49 L862.50 977.05 L863.10 977.05 L864.91 976.49 L866.11 975.36 L866.71 973.68 L866.71 973.12 L866.11 971.43 L864.91 970.31 L863.10 969.75 L862.50 969.75 L860.70 970.31 L859.50 971.43 L858.89 973.12 M873.93 965.25 L872.12 965.81 L870.92 967.50 L870.32 970.31 L870.32 971.99 L870.92 974.80 L872.12 976.49 L873.93 977.05 L875.13 977.05 L876.93 976.49 L878.13 974.80 L878.73 971.99 L878.73 970.31 L878.13 967.50 L876.93 965.81 L875.13 965.25 L873.93 965.25 M881.74 965.25 L884.75 977.05 M887.75 965.25 L884.75 977.05 M887.75 965.25 L890.76 977.05 M893.77 965.25 L890.76 977.05" fill="none" stroke="#111" stroke-width="1.3" stroke-linecap="round" stroke-linejoin="round"/>
<path d="M193.95 907.55 L213.75 907.55 M193.95 907.55 L193.95 899.11 L194.89 896.30 L195.84 895.36 L197.72 894.42 L200.55 894.42 L202.44 895.36 L203.38 896.30 L204.32 899.11 L204.32 907.55 M200.55 887.86 L213.75 887.86 M206.21 887.86 L203.38 886.92 L201.49 885.05 L200.55 883.17 L200.55 880.36 M206.21 876.61 L206.21 865.36 L204.32 865.36 L202.44 866.30 L201.49 867.24 L200.55 869.11 L200.55 871.92 L201.49 873.80 L203.38 875.67 L206.21 876.61 L208.09 876.61 L210.92 875.67 L212.81 873.80 L213.75 871.92 L213.75 869.11 L212.81 867.24 L210.92 865.36 M203.38 849.42 L201.49 850.36 L200.55 853.17 L200.55 855.98 L201.49 858.80 L203.38 859.73 L205.26 858.80 L206.21 856.92 L207.15 852.23 L208.09 850.36 L209.98 849.42 L210.92 849.42 L212.81 850.36 L213.75 853.17 L213.75 855.98 L212.81 858.80 L210.92 859.73 M203.38 833.48 L201.49 834.42 L200.55 837.23 L200.55 840.05 L201.49 842.86 L203.38 843.80 L205.26 842.86 L206.21 840.98 L207.15 836.30 L208.09 834.42 L209.98 833.48 L210.92 833.48 L212.81 834.42 L213.75 837.23 L213.75 840.05 L212.81 842.86 L210.92 843.80 M200.55 826.92 L209.98 826.92 L212.81 825.98 L213.75 824.11 L213.75 821.29 L212.81 819.42 L209.98 816.61 M200.55 816.61 L213.75 816.61 M200.55 809.11 L213.75 809.11 M206.21 809.11 L203.38 808.17 L201.49 806.29 L200.55 804.42 L200.55 801.61 M206.21 797.86 L206.21 786.61 L204.32 786.61 L202.44 787.54 L201.49 788.48 L200.55 790.36 L200.55 793.17 L201.49 795.04 L203.38 796.92 L206.21 797.86 L208.09 797.86 L210.92 796.92 L212.81 795.04 L213.75 793.17 L213.75 790.36 L212.81 788.48 L210.92 786.61 M190.93 758.48 L192.72 760.35 L195.41 762.23 L198.99 764.10 L203.47 765.04 L207.06 765.04 L211.53 764.10 L215.12 762.23 L217.80 760.35 L219.60 758.48 M200.55 751.92 L213.75 751.92 M204.32 751.92 L201.49 749.10 L200.55 747.23 L200.55 744.42 L201.49 742.54 L204.32 741.60 L213.75 741.60 M204.32 741.60 L201.49 738.79 L200.55 736.91 L200.55 734.10 L201.49 732.23 L204.32 731.29 L213.75 731.29 M193.95 723.79 L213.75 723.79 M203.38 723.79 L201.49 721.91 L200.55 720.04 L200.55 717.23 L201.49 715.35 L203.38 713.48 L206.21 712.54 L208.09 712.54 L210.92 713.48 L212.81 715.35 L213.75 717.23 L213.75 720.04 L212.81 721.91 L210.92 723.79 M190.93 706.91 L192.72 705.04 L195.41 703.16 L198.99 701.29 L203.47 700.35 L207.06 700.35 L211.53 701.29 L215.12 703.16 L217.80 705.04 L219.60 706.91" fill="none" stroke="#111" stroke-width="1.3" stroke-linecap="round" stroke-linejoin="round"/>
<path d="M1047.45 888.95 L1067.35 888.95 M1047.45 875.79 L1067.35 875.79 M1056.93 888.95 L1056.93 875.79 M1059.77 869.20 L1059.77 857.92 L1057.87 857.92 L1055.98 858.86 L1055.03 859.80 L1054.08 861.68 L1054.08 864.50 L1055.03 866.38 L1056.93 868.26 L1059.77 869.20 L1061.66 869.20 L1064.51 868.26 L1066.40 866.38 L1067.35 864.50 L1067.35 861.68 L1066.40 859.80 L1064.51 857.92 M1047.45 852.28 L1048.40 851.34 L1047.45 850.40 L1046.50 851.34 L1047.45 852.28 M1054.08 851.34 L1067.35 851.34 M1054.08 833.47 L1069.25 833.47 L1072.09 834.41 L1073.04 835.35 L1073.98 837.23 L1073.98 840.05 L1073.04 841.93 M1056.93 833.47 L1055.03 835.35 L1054.08 837.23 L1054.08 840.05 L1055.03 841.93 L1056.93 843.81 L1059.77 844.75 L1061.66 844.75 L1064.51 843.81 L1066.40 841.93 L1067.35 840.05 L1067.35 837.23 L1066.40 835.35 L1064.51 833.47 M1047.45 825.95 L1067.35 825.95 M1057.87 825.95 L1055.03 823.13 L1054.08 821.25 L1054.08 818.43 L1055.03 816.54 L1057.87 815.60 L1067.35 815.60 M1047.45 807.14 L1063.56 807.14 L1066.40 806.20 L1067.35 804.32 L1067.35 802.44 M1054.08 809.96 L1054.08 803.38 M1044.42 775.17 L1046.22 777.05 L1048.92 778.93 L1052.52 780.81 L1057.02 781.75 L1060.62 781.75 L1065.12 780.81 L1068.72 778.93 L1071.42 777.05 L1073.23 775.17 M1047.45 768.59 L1067.35 768.59 M1054.08 759.18 L1063.56 768.59 M1059.77 764.83 L1067.35 758.24 M1054.08 752.60 L1067.35 752.60 M1057.87 752.60 L1055.03 749.78 L1054.08 747.90 L1054.08 745.08 L1055.03 743.20 L1057.87 742.26 L1067.35 742.26 M1057.87 742.26 L1055.03 739.44 L1054.08 737.56 L1054.08 734.74 L1055.03 732.85 L1057.87 731.91 L1067.35 731.91 M1044.42 725.33 L1046.22 723.45 L1048.92 721.57 L1052.52 719.69 L1057.02 718.75 L1060.62 718.75 L1065.12 719.69 L1068.72 721.57 L1071.42 723.45 L1073.23 725.33" fill="none" stroke="#111" stroke-width="1.3" stroke-linecap="round" stroke-linejoin="round"/>
<path d="M316.15 637.42 L315.42 635.95 L313.97 634.48 L312.51 633.75 L309.61 633.75 L308.16 634.48 L306.70 635.95 L305.98 637.42 L305.25 639.62 L305.25 643.28 L305.98 645.48 L306.70 646.95 L308.16 648.42 L309.61 649.15 L312.51 649.15 L313.97 648.42 L315.42 646.95 L316.15 645.48 M321.23 633.75 L321.23 649.15 M329.95 638.88 L328.50 639.62 L327.04 641.08 L326.32 643.28 L326.32 644.75 L327.04 646.95 L328.50 648.42 L329.95 649.15 L332.13 649.15 L333.58 648.42 L335.03 646.95 L335.76 644.75 L335.76 643.28 L335.03 641.08 L333.58 639.62 L332.13 638.88 L329.95 638.88 M340.84 638.88 L340.84 646.22 L341.57 648.42 L343.02 649.15 L345.20 649.15 L346.66 648.42 L348.84 646.22 M348.84 638.88 L348.84 649.15 M362.64 633.75 L362.64 649.15 M362.64 641.08 L361.18 639.62 L359.73 638.88 L357.55 638.88 L356.10 639.62 L354.65 641.08 L353.92 643.28 L353.92 644.75 L354.65 646.95 L356.10 648.42 L357.55 649.15 L359.73 649.15 L361.18 648.42 L362.64 646.95 M379.35 633.75 L380.07 634.48 L380.80 633.75 L380.07 633.02 L379.35 633.75 M380.07 638.88 L380.07 649.15 M393.87 641.08 L392.42 639.62 L390.97 638.88 L388.79 638.88 L387.34 639.62 L385.88 641.08 L385.16 643.28 L385.16 644.75 L385.88 646.95 L387.34 648.42 L388.79 649.15 L390.97 649.15 L392.42 648.42 L393.87 646.95 M398.23 643.28 L406.95 643.28 L406.95 641.82 L406.22 640.35 L405.50 639.62 L404.04 638.88 L401.86 638.88 L400.41 639.62 L398.96 641.08 L398.23 643.28 L398.23 644.75 L398.96 646.95 L400.41 648.42 L401.86 649.15 L404.04 649.15 L405.50 648.42 L406.95 646.95 M418.57 635.95 L418.57 649.15 M412.03 642.55 L425.11 642.55 M430.92 633.75 L430.92 649.15 M436.01 633.75 L436.73 634.48 L437.46 633.75 L436.73 633.02 L436.01 633.75 M436.73 638.88 L436.73 649.15 M450.53 638.88 L450.53 654.28 M450.53 641.08 L449.08 639.62 L447.63 638.88 L445.45 638.88 L444.00 639.62 L442.54 641.08 L441.82 643.28 L441.82 644.75 L442.54 646.95 L444.00 648.42 L445.45 649.15 L447.63 649.15 L449.08 648.42 L450.53 646.95 M456.35 638.88 L456.35 646.22 L457.07 648.42 L458.53 649.15 L460.70 649.15 L462.16 648.42 L464.34 646.22 M464.34 638.88 L464.34 649.15 M469.42 633.75 L470.15 634.48 L470.87 633.75 L470.15 633.02 L469.42 633.75 M470.15 638.88 L470.15 649.15 M483.95 633.75 L483.95 649.15 M483.95 641.08 L482.50 639.62 L481.04 638.88 L478.87 638.88 L477.41 639.62 L475.96 641.08 L475.23 643.28 L475.23 644.75 L475.96 646.95 L477.41 648.42 L478.87 649.15 L481.04 649.15 L482.50 648.42 L483.95 646.95" fill="none" stroke="#111" stroke-width="1.3" stroke-linecap="round" stroke-linejoin="round"/>
<path d="M944.29 638.82 L944.29 650.40 L943.56 652.57 L942.84 653.29 L941.38 654.02 L939.19 654.02 L937.74 653.29 M944.29 640.99 L942.84 639.54 L941.38 638.82 L939.19 638.82 L937.74 639.54 L936.28 640.99 L935.55 643.16 L935.55 644.61 L936.28 646.78 L937.74 648.23 L939.19 648.95 L941.38 648.95 L942.84 648.23 L944.29 646.78 M961.78 630.85 L948.66 654.02 M966.15 633.75 L966.15 648.95 M973.44 638.82 L966.15 646.05 M969.06 643.16 L974.16 648.95 M986.55 638.82 L986.55 650.40 L985.82 652.57 L985.09 653.29 L983.64 654.02 L981.45 654.02 L979.99 653.29 M986.55 640.99 L985.09 639.54 L983.64 638.82 L981.45 638.82 L979.99 639.54 L978.54 640.99 L977.81 643.16 L977.81 644.61 L978.54 646.78 L979.99 648.23 L981.45 648.95 L983.64 648.95 L985.09 648.23 L986.55 646.78" fill="none" stroke="#111" stroke-width="1.3" stroke-linecap="round" stroke-linejoin="round"/>
<text x="417.5" y="609.6" class="t" font-size="27.4" textLength="457" lengthAdjust="spacingAndGlyphs">CESM2B2_Oslo_FC55CLUBB (yrs 2-5)</text>
<path d="M521.10 982.20 L521.10 992.70 M521.10 982.20 L525.62 992.70 M530.14 982.20 L525.62 992.70 M530.14 982.20 L530.14 992.70 M534.67 982.20 L534.67 992.70 M539.19 982.20 L539.19 992.70 M539.19 982.20 L547.10 992.70 M547.10 982.20 L547.10 992.70" fill="none" stroke="#111" stroke-width="1.2" stroke-linecap="round" stroke-linejoin="round"/>
<path d="M559.70 986.70 L569.40 986.70 M559.70 989.70 L569.40 989.70" fill="none" stroke="#111" stroke-width="1.2" stroke-linecap="round" stroke-linejoin="round"/>
<path d="M602.15 982.20 L600.53 982.70 L599.44 984.20 L598.90 986.70 L598.90 988.20 L599.44 990.70 L600.53 992.20 L602.15 992.70 L603.24 992.70 L604.86 992.20 L605.95 990.70 L606.49 988.20 L606.49 986.70 L605.95 984.20 L604.86 982.70 L603.24 982.20 L602.15 982.20 M610.83 991.70 L610.29 992.20 L610.83 992.70 L611.37 992.20 L610.83 991.70 M618.42 982.20 L616.79 982.70 L615.71 984.20 L615.17 986.70 L615.17 988.20 L615.71 990.70 L616.79 992.20 L618.42 992.70 L619.50 992.70 L621.13 992.20 L622.21 990.70 L622.76 988.20 L622.76 986.70 L622.21 984.20 L621.13 982.70 L619.50 982.20 L618.42 982.20 M629.26 982.20 L627.64 982.70 L626.55 984.20 L626.01 986.70 L626.01 988.20 L626.55 990.70 L627.64 992.20 L629.26 992.70 L630.35 992.70 L631.97 992.20 L633.06 990.70 L633.60 988.20 L633.60 986.70 L633.06 984.20 L631.97 982.70 L630.35 982.20 L629.26 982.20" fill="none" stroke="#111" stroke-width="1.2" stroke-linecap="round" stroke-linejoin="round"/>
<path d="M654.00 982.20 L654.00 992.70 M654.00 982.20 L658.36 992.70 M662.73 982.20 L658.36 992.70 M662.73 982.20 L662.73 992.70 M669.82 982.20 L665.45 992.70 M669.82 982.20 L674.18 992.70 M667.09 989.20 L672.55 989.20 M676.36 982.20 L684.00 992.70 M676.36 992.70 L684.00 982.20" fill="none" stroke="#111" stroke-width="1.2" stroke-linecap="round" stroke-linejoin="round"/>
<path d="M696.10 986.70 L706.20 986.70 M696.10 989.70 L706.20 989.70" fill="none" stroke="#111" stroke-width="1.2" stroke-linecap="round" stroke-linejoin="round"/>
<path d="M738.91 982.20 L737.30 982.70 L736.23 984.20 L735.70 986.70 L735.70 988.20 L736.23 990.70 L737.30 992.20 L738.91 992.70 L739.98 992.70 L741.58 992.20 L742.65 990.70 L743.18 988.20 L743.18 986.70 L742.65 984.20 L741.58 982.70 L739.98 982.20 L738.91 982.20 M747.46 991.70 L746.92 992.20 L747.46 992.70 L747.99 992.20 L747.46 991.70 M754.94 982.20 L753.33 982.70 L752.27 984.20 L751.73 986.70 L751.73 988.20 L752.27 990.70 L753.33 992.20 L754.94 992.70 L756.01 992.70 L757.61 992.20 L758.68 990.70 L759.21 988.20 L759.21 986.70 L758.68 984.20 L757.61 982.70 L756.01 982.20 L754.94 982.20 M769.90 982.20 L764.56 992.70 M762.42 982.20 L769.90 982.20" fill="none" stroke="#111" stroke-width="1.2" stroke-linecap="round" stroke-linejoin="round"/>
<rect x="309.7" y="1009.6" width="42" height="10.7" fill="#00008b"/>
<rect x="351.7" y="1009.6" width="42" height="10.7" fill="#0018b4"/>
<rect x="393.7" y="1009.6" width="42" height="10.7" fill="#002ae0"/>
<rect x="435.7" y="1009.6" width="42" height="10.7" fill="#1c50ff"/>
<rect x="477.7" y="1009.6" width="42" height="10.7" fill="#4278fc"/>
<rect x="519.7" y="1009.6" width="42" height="10.7" fill="#82a8fc"/>
<rect x="561.7" y="1009.6" width="42" height="10.7" fill="#b4ceff"/>
<rect x="603.7" y="1009.6" width="42" height="10.7" fill="#d6ebff"/>
<rect x="645.7" y="1009.6" width="42" height="10.7" fill="#ffebd8"/>
<rect x="687.7" y="1009.6" width="42" height="10.7" fill="#ffcab1"/>
<rect x="729.7" y="1009.6" width="42" height="10.7" fill="#ffa27b"/>
<rect x="771.7" y="1009.6" width="42" height="10.7" fill="#ff7440"/>
<rect x="813.7" y="1009.6" width="42" height="10.7" fill="#fc4c18"/>
<rect x="855.7" y="1009.6" width="42" height="10.7" fill="#de3004"/>
<rect x="897.7" y="1009.6" width="42" height="10.7" fill="#b42204"/>
<rect x="939.7" y="1009.6" width="42" height="10.7" fill="#8b0000"/>
<path d="M351.7 1009.6 V1020.3 M393.7 1009.6 V1020.3 M435.7 1009.6 V1020.3 M477.7 1009.6 V1020.3 M519.7 1009.6 V1020.3 M561.7 1009.6 V1020.3 M603.7 1009.6 V1020.3 M645.7 1009.6 V1020.3 M687.7 1009.6 V1020.3 M729.7 1009.6 V1020.3 M771.7 1009.6 V1020.3 M813.7 1009.6 V1020.3 M855.7 1009.6 V1020.3 M897.7 1009.6 V1020.3 M939.7 1009.6 V1020.3 " stroke="#000" stroke-width="1.1" fill="none"/>
<rect x="309.7" y="1009.6" width="672" height="10.7" fill="none" stroke="#000" stroke-width="1.2"/>
<text transform="translate(352.2,1039.5) scale(1.11,1)" class="c" text-anchor="middle" font-size="17.4">0.01</text>
<text transform="translate(436.2,1039.5) scale(1.11,1)" class="c" text-anchor="middle" font-size="17.4">0.02</text>
<text transform="translate(520.2,1039.5) scale(1.11,1)" class="c" text-anchor="middle" font-size="17.4">0.03</text>
<text transform="translate(604.2,1039.5) scale(1.11,1)" class="c" text-anchor="middle" font-size="17.4">0.04</text>
<text transform="translate(688.2,1039.5) scale(1.11,1)" class="c" text-anchor="middle" font-size="17.4">0.06</text>
<text transform="translate(772.2,1039.5) scale(1.11,1)" class="c" text-anchor="middle" font-size="17.4">0.08</text>
<text transform="translate(856.2,1039.5) scale(1.11,1)" class="c" text-anchor="middle" font-size="17.4">0.1</text>
<text transform="translate(940.2,1039.5) scale(1.11,1)" class="c" text-anchor="middle" font-size="17.4">0.12</text>
<clipPath id="cp972"><rect x="306.0" y="185.8" width="680.0" height="264.4000000000001"/></clipPath>
<g clip-path="url(#cp972)" transform="translate(0,972)"><rect x="300" y="180" width="700" height="280" fill="#ffebd8"/><polygon points="302.8,183.6 314.3,183.6 314.3,187.1 311.2,204.6 315.4,219.3 319.3,223.5 319.6,243.8 317.1,262.0 310.9,281.0 306.3,282.4 302.8,282.4" fill="#d6ebff"/><polygon points="325.9,183.6 325.9,187.1 327.3,206.0 328.7,234.0 329.0,262.0 335.0,281.0 339.2,286.6 348.3,287.0 353.2,281.7 358.8,283.8 363.7,282.4 367.7,273.3 372.1,281.0 377.0,282.8 381.9,299.9 382.9,260.6 386.8,245.9 391.8,250.1 396.4,258.5 396.9,281.7 400.9,299.9 403.9,318.1 404.4,328.0 404.4,346.1 410.7,346.1 410.7,328.0 412.1,312.5 414.2,298.5 419.1,281.7 420.2,252.2 414.9,243.1 415.1,239.6 419.8,239.6 423.3,245.2 429.6,250.1 432.4,259.2 434.5,270.5 436.6,256.4 438.0,243.1 433.1,217.2 430.3,199.0 428.6,187.1 428.6,183.6 391.1,183.6 391.1,187.1 386.6,195.1 383.8,187.1 383.8,183.6" fill="#d6ebff"/><polygon points="458.0,248.0 456.6,241.7 458.0,225.6 462.5,218.9 468.1,219.3 472.3,224.2 475.8,241.7 473.0,249.4 468.1,249.7 462.8,245.9" fill="#d6ebff"/><polygon points="391.1,292.9 398.8,298.7 396.0,300.6 391.3,310.4" fill="#d6ebff"/><polygon points="451.6,318.8 453.4,313.6 455.2,318.8 453.4,325.8" fill="#d6ebff"/><polygon points="381.9,320.2 385.4,328.0 386.6,332.1 381.9,332.1" fill="#d6ebff"/><polygon points="328.0,328.0 330.1,312.5 334.3,301.0 339.2,305.8 353.2,302.4 358.1,309.0 363.0,318.1 367.9,317.8 372.1,304.1 377.0,316.7 378.7,328.0 379.1,332.0 377.7,353.0 377.0,369.2 362.3,364.2 359.5,355.8 358.1,341.8 348.3,347.4 337.8,344.6 333.6,348.1 329.4,353.7 327.3,336.2" fill="#ffcab1"/><polygon points="332.9,323.7 333.6,311.8 339.2,316.7 348.3,311.8 353.9,315.3 355.3,318.1 352.5,325.0 348.3,334.1 339.2,322.2 334.3,329.9" fill="#ffa27b"/><polygon points="361.6,336.9 363.0,331.3 366.5,339.0 368.6,355.8 363.0,355.8 362.3,343.2" fill="#ffa27b"/><polygon points="381.9,319.4 387.5,334.8 391.1,339.0 401.6,357.2 404.4,336.2 404.4,311.0 410.7,311.0 410.7,337.6 415.1,358.6 420.5,343.2 424.0,334.1 429.6,334.1 434.5,328.5 438.0,339.0 438.7,354.4 434.5,365.6 429.6,350.2 424.7,361.4 423.3,374.0 417.7,378.2 410.7,384.5 405.8,383.1 400.9,378.2 396.7,376.1 391.8,371.9 386.8,373.3 382.2,379.6 381.0,360.0 381.0,332.0" fill="#d6ebff"/><polygon points="302.8,383.8 311.2,383.1 316.8,378.2 324.5,375.4 330.1,376.1 334.3,368.4 339.2,371.9 344.8,375.4 348.3,386.6 353.9,394.8 358.6,375.4 362.3,393.6 367.9,394.3 366.1,404.1 367.9,407.6 369.3,402.7 372.1,402.7 372.1,416.1 363.0,416.1 363.0,424.5 348.6,424.5 348.6,434.3 329.7,434.3 329.7,441.3 327.3,441.3 325.2,430.8 321.0,438.5 318.2,430.1 318.9,421.7 315.4,414.0 311.2,411.9 306.3,414.7 302.8,414.7" fill="#d6ebff"/><polygon points="316.1,403.2 321.0,396.4 323.1,388.0 330.1,385.0 332.9,393.6 333.3,407.6 331.5,418.9 329.4,425.6 324.5,422.4 321.0,410.5" fill="#b4ceff"/><polygon points="326.9,402.0 328.7,393.6 330.1,392.9 331.1,403.4 330.1,414.7 328.7,416.1 326.6,410.5" fill="#82a8fc"/><polygon points="449.9,355.5 458.0,349.9 462.2,355.5 458.3,357.2" fill="#d6ebff"/><polygon points="468.1,451.1 471.6,441.3 475.1,441.3 477.2,451.1" fill="#d6ebff"/><polygon points="440.1,450.4 444.3,447.6 447.1,450.4" fill="#d6ebff"/><polygon points="451.3,318.0 455.5,318.0 453.4,325.7" fill="#d6ebff"/><polygon points="400.6,412.1 406.5,411.6 406.7,413.5 403.0,413.5" fill="#ffcab1"/><polygon points="314.0,421.7 315.7,420.3 316.1,424.5 314.7,423.8" fill="#ffcab1"/><polygon points="479.1,242.4 481.9,231.2 483.3,242.4 481.9,248.7" fill="#d6ebff"/><polygon points="496.3,234.7 499.4,248.0 503.2,261.3 501.9,281.7 497.3,298.5 495.9,328.0 496.6,328.0 496.6,328.6 487.5,328.6 488.2,297.1 488.2,278.9 490.3,262.0 493.8,248.0" fill="#d6ebff"/><polygon points="526.7,261.3 530.0,257.8 530.2,274.7 529.5,283.1 527.9,280.3" fill="#d6ebff"/><polygon points="572.0,183.6 594.0,183.6 594.0,187.1 596.8,199.0 599.6,210.2 602.4,222.8 601.0,243.8 596.1,227.7 591.2,218.6 588.4,206.0 586.5,191.3 585.1,203.2 582.1,215.8 577.2,219.7 574.4,200.4 572.0,187.1" fill="#d6ebff"/><polygon points="630.0,183.6 637.4,183.6 637.4,187.1 639.5,206.0 640.6,222.8 639.9,243.1 638.1,245.2 634.2,242.4 629.7,245.2 624.8,245.2 619.6,255.0 615.7,252.2 610.1,250.8 606.9,242.4 607.3,222.8 610.4,216.5 614.6,224.9 619.6,208.8 624.1,203.2 629.7,192.0 630.0,187.1" fill="#d6ebff"/><polygon points="488.2,317.3 496.6,317.3 494.9,336.2 495.5,355.8 491.0,358.6 483.3,355.8 486.8,346.0 487.5,332.0" fill="#d6ebff"/><polygon points="498.0,336.2 500.8,334.8 505.7,336.9 510.6,335.9 515.1,336.9 510.6,348.1 506.1,339.0 505.7,355.1 500.8,358.2 496.3,355.8" fill="#d6ebff"/><polygon points="527.2,336.9 529.5,333.4 534.4,336.9 537.0,355.8 533.7,358.6 528.8,355.8" fill="#d6ebff"/><polygon points="551.9,336.9 553.8,336.2 553.8,341.1" fill="#d6ebff"/><polygon points="585.1,335.5 591.2,332.7 598.6,336.9 596.1,350.2 594.7,374.0 591.2,385.0 587.0,374.7 586.3,353.0" fill="#d6ebff"/><polygon points="605.2,371.9 610.1,369.5 612.2,374.0 608.7,390.8 605.6,399.9 604.1,393.6" fill="#d6ebff"/><polygon points="616.8,375.2 619.9,369.1 624.1,374.7 619.9,385.9" fill="#d6ebff"/><polygon points="624.8,374.7 633.9,360.0 639.5,366.3 643.0,374.0 636.7,380.3 633.2,385.2 629.0,386.9" fill="#d6ebff"/><polygon points="643.7,374.0 645.8,355.8 648.6,349.5 651.0,353.0 652.8,374.7 647.2,375.7" fill="#d6ebff"/><polygon points="470.0,451.1 471.4,441.3 474.5,441.3 476.3,451.1" fill="#d6ebff"/><polygon points="479.8,441.3 486.8,441.3 489.6,431.5 495.9,428.7 502.2,430.1 510.6,431.5 514.8,437.1 519.0,437.8 523.2,441.3 523.2,444.1 491.0,444.1 491.0,451.1 481.9,451.1" fill="#d6ebff"/><polygon points="531.9,431.5 534.7,431.2 534.2,439.2" fill="#d6ebff"/><polygon points="548.4,441.3 552.6,430.1 558.0,418.2 561.8,422.4 562.7,428.7 566.7,431.5 567.4,439.9 573.7,441.3 573.4,451.1 548.4,451.1" fill="#d6ebff"/><polygon points="579.0,441.3 582.1,440.6 589.1,441.3 598.9,441.0 600.3,451.1 579.0,451.1" fill="#d6ebff"/><polygon points="613.2,441.3 623.8,441.0 624.1,451.1 613.2,451.1" fill="#d6ebff"/><polygon points="642.8,298.5 648.1,295.4 653.3,299.2 653.3,318.1 648.4,328.4 643.9,329.3 643.1,323.7 642.5,312.5" fill="#d6ebff"/><polygon points="658.2,183.6 678.9,183.6 678.9,187.1 681.3,203.2 686.2,210.2 691.5,214.1 696.3,201.8 700.5,205.6 705.1,203.9 709.8,214.7 714.9,217.9 720.1,206.0 722.6,203.2 724.5,187.1 724.5,183.6 733.2,183.6 733.2,187.1 732.5,220.0 732.0,242.4 733.9,252.0 738.8,249.4 743.7,253.6 747.2,273.3 752.1,299.2 748.6,320.2 743.7,309.7 738.8,317.8 733.9,310.4 728.9,285.9 724.5,270.5 719.6,280.3 710.0,281.0 705.1,278.2 700.5,259.2 695.8,276.8 687.9,262.0 686.6,241.3 681.6,243.6 676.7,236.1 674.0,242.7 674.7,260.6 672.2,274.0 669.1,261.3 670.5,243.1 667.7,229.1 662.4,220.0 657.9,225.6 656.1,222.8 655.1,204.6 658.2,187.1" fill="#d6ebff"/><polygon points="771.7,187.1 775.9,206.0 781.5,216.1 786.4,213.0 791.3,209.1 795.8,207.1 797.6,222.8 796.6,243.8 798.0,260.6 796.9,281.0 790.6,292.9 788.2,299.9 788.5,318.1 789.6,328.0 790.6,335.5 794.8,334.8 796.2,336.9 791.3,337.6 786.4,341.8 783.6,336.2 782.9,328.0 781.5,315.3 778.0,297.8 771.7,293.6 766.1,290.1 762.6,290.3 759.1,281.0 757.9,260.6 753.2,242.7 757.4,227.3 762.6,227.3 766.8,220.7 768.2,204.6" fill="#d6ebff"/><polygon points="805.3,256.2 808.1,266.2 810.6,278.9 808.8,298.5 808.1,328.0 807.4,336.9 804.6,336.9 803.2,328.0 801.8,298.5 803.2,262.0" fill="#d6ebff"/><polygon points="689.7,355.8 693.2,344.6 696.0,337.6 700.5,332.0 702.8,337.6 700.5,355.5" fill="#d6ebff"/><polygon points="644.2,374.7 645.6,357.2 648.4,349.5 652.3,355.8 650.5,375.4" fill="#d6ebff"/><polygon points="640.0,368.4 642.8,374.0 640.0,376.8" fill="#d6ebff"/><polygon points="747.2,317.7 749.3,317.7 748.1,319.7" fill="#d6ebff"/><polygon points="740.2,431.5 753.5,430.1 766.8,430.1 771.0,422.4 786.4,419.6 789.9,413.3 794.1,412.1 800.4,414.7 808.1,418.9 815.1,425.9 819.3,431.5 813.7,439.9 808.1,440.6 798.3,441.3 790.6,438.5 782.2,441.3 781.5,451.1 776.6,451.1 774.2,441.3 757.7,441.3 757.0,451.1 749.0,451.1 751.4,441.3 743.4,441.3" fill="#d6ebff"/><polygon points="792.0,421.9 795.5,417.7 805.3,418.2 811.6,421.7 816.2,431.5 814.4,435.7 810.2,437.1 801.1,431.5 794.8,426.6" fill="#b4ceff"/><polygon points="796.9,422.4 803.9,420.0 810.2,421.7 813.7,431.5 811.6,433.6 806.7,429.4" fill="#82a8fc"/><polygon points="840.1,183.6 871.6,183.6 871.6,211.6 876.5,208.5 880.0,222.8 882.4,242.4 880.7,262.0 876.5,277.5 871.6,266.9 866.7,268.4 862.1,261.3 857.6,229.1 853.4,248.0 848.5,262.7 843.3,266.0 838.4,263.2 836.6,297.1 835.6,318.1 831.0,332.0 827.1,337.6 824.0,358.6 819.5,362.8 815.9,355.8 819.1,336.2 815.6,326.4 812.1,318.1 813.1,298.5 819.1,290.1 824.0,274.7 828.9,259.2 833.8,252.9 837.3,241.7 836.9,225.6 838.0,206.0 840.1,187.1" fill="#d6ebff"/><polygon points="852.0,200.1 853.8,203.9 852.7,210.9 851.7,206.0" fill="#ffebd8"/><polygon points="941.0,183.6 992.1,183.6 992.1,320.8 985.1,320.8 977.4,328.9 971.1,329.2 957.8,335.5 948.7,333.4 943.1,328.5 936.8,337.6 933.3,348.8 930.7,356.5 927.7,355.8 926.3,339.0 924.2,325.7 919.3,324.4 918.1,318.1 921.4,298.5 927.7,285.9 933.3,274.7 936.1,280.3 938.6,282.4 941.0,267.6 943.1,237.5 948.0,253.6 952.2,268.4 957.1,263.4 961.3,250.8 963.8,241.7 962.0,225.6 957.1,217.9 952.6,223.1 948.0,220.0 944.5,206.0 941.0,187.1" fill="#d6ebff"/><polygon points="841.5,328.0 843.3,320.9 845.0,328.0" fill="#ffcab1"/><polygon points="907.8,355.8 910.9,343.2 914.8,327.1 917.6,337.6 915.3,356.5" fill="#d6ebff"/><polygon points="841.9,393.6 844.3,392.2 846.1,395.0 846.1,402.7 852.0,413.3 852.7,417.5 857.6,424.5 862.9,422.4 867.4,421.0 871.6,429.4 876.5,422.4 881.4,430.1 886.3,430.1 887.7,432.9 885.6,439.9 881.4,444.1 847.8,444.1 847.8,424.5 838.7,424.5 838.7,418.9 842.9,413.3 841.5,402.0" fill="#d6ebff"/><polygon points="895.0,431.5 901.3,431.2 901.8,439.9 900.4,451.1 895.0,451.1" fill="#d6ebff"/><polygon points="913.2,441.3 919.0,441.3 917.6,451.1 913.7,451.1" fill="#d6ebff"/><polygon points="924.6,441.3 943.1,440.1 945.2,431.7 957.1,430.8 968.0,431.5 966.9,451.1 924.9,451.1" fill="#d6ebff"/><polygon points="809.3,420.3 813.5,424.5 816.3,431.5 814.2,437.1 809.3,437.1" fill="#b4ceff"/><polygon points="809.3,422.4 812.8,428.7 812.1,432.2 809.3,432.2" fill="#82a8fc"/><polygon points="839.7,339.0 843.3,321.5 846.7,336.2 850.6,355.1 847.8,360.7 843.3,363.5 840.5,354.4" fill="#ffcab1"/><polygon points="841.9,337.6 843.3,331.3 844.7,339.0 843.6,348.1" fill="#ffa27b"/><polygon points="833.1,355.1 834.1,355.1 833.8,366.3" fill="#ffcab1"/><polygon points="927.8,391.1 930.0,379.4 931.3,375.4 935.2,368.5 937.3,366.3 943.2,362.9 946.2,361.8 954.0,360.1 957.4,359.7 965.2,359.7 968.4,360.3 975.2,363.0 977.2,365.1 979.7,372.5 980.9,376.1 984.4,385.9 986.1,388.0 991.1,388.0 992.1,395.2 992.1,428.5 990.5,435.7 983.2,435.7 980.6,434.6 976.2,429.7 973.6,427.6 965.8,422.7 962.4,420.9 954.6,417.5 951.2,416.0 943.4,412.6 940.4,410.8 934.5,405.9 932.6,404.0 929.7,400.1 928.8,398.4 927.6,394.5" fill="#ffcab1"/><polygon points="933.2,391.1 936.1,379.4 937.5,376.0 940.9,372.1 943.1,370.5 950.0,367.1 953.4,366.2 962.2,365.5 965.1,365.9 970.0,368.6 971.9,370.5 975.9,376.9 977.2,380.3 979.7,390.1 980.9,394.6 984.4,405.3 986.1,407.6 991.1,407.6 992.1,410.4 992.1,423.1 991.1,425.9 986.1,425.9 984.5,426.2 981.5,427.6 980.1,427.4 976.1,425.0 973.6,423.4 965.8,418.5 962.6,416.5 955.8,412.1 952.8,410.5 945.9,407.6 943.2,406.0 937.3,401.6 935.5,399.6 933.1,394.7" fill="#ffa27b"/><polygon points="941.5,391.9 947.4,383.5 949.5,381.0 953.4,377.6 955.3,376.7 960.2,376.2 962.3,376.8 967.2,379.7 969.1,381.9 973.1,389.3 974.4,392.5 976.9,400.4 977.8,403.5 979.8,410.4 979.7,412.9 977.2,417.8 975.9,418.5 971.9,417.1 969.6,415.8 962.8,411.4 959.8,409.4 952.9,404.5 950.4,402.6 945.5,398.7 943.8,397.2 940.9,394.3" fill="#ff7440"/><polygon points="950.7,393.4 954.8,389.0 956.8,387.6 962.2,385.7 964.1,385.9 967.6,388.8 968.9,390.9 971.9,397.8 972.7,400.9 973.7,408.8 973.5,411.0 971.5,413.4 969.8,413.1 963.9,409.2 961.4,407.4 955.5,403.0 953.6,400.9 950.5,395.5" fill="#fc4c18"/><polygon points="961.3,395.3 962.4,393.4 963.3,393.3 966.3,394.7 967.5,396.2 970.2,401.6 970.2,403.3 967.5,405.7 966.0,405.8 962.1,403.9 961.2,402.3 961.0,396.9" fill="#de3004"/><polygon points="684.4,401.5 685.9,395.6 687.7,393.4 694.6,389.0 697.5,387.2 704.4,383.3 707.9,382.0 717.7,380.1 721.3,378.5 728.2,373.1 731.1,371.0 738.0,366.6 741.3,364.8 750.2,360.9 754.2,359.9 764.0,359.1 769.2,358.9 783.9,358.7 789.2,358.7 799.0,359.2 802.1,359.8 807.0,362.3 809.1,363.9 814.0,368.8 815.6,371.3 818.0,378.2 819.3,381.3 823.2,389.2 824.9,392.3 828.8,399.2 830.3,399.6 833.0,394.7 833.9,395.3 835.6,403.2 836.1,407.4 836.8,419.1 836.8,424.0 836.1,434.8 835.0,438.4 830.6,444.8 828.8,445.0 824.9,439.6 823.2,437.2 819.3,431.3 817.7,428.4 814.4,420.5 812.9,418.0 808.9,414.1 807.0,412.6 802.1,409.7 800.0,408.8 795.1,407.9 793.0,408.1 788.1,410.0 786.0,411.1 781.1,414.0 778.8,414.9 772.9,415.8 770.4,416.1 764.5,416.1 761.6,415.5 753.7,412.7 748.7,412.1 733.0,412.1 726.1,411.9 709.4,410.7 703.9,409.9 695.1,407.5 691.9,406.3 685.5,403.4" fill="#ffcab1"/><polygon points="721.0,400.8 721.2,394.9 722.5,392.4 728.4,386.5 731.3,383.8 739.2,376.9 742.5,374.1 750.4,367.7 754.2,365.9 764.0,363.9 769.2,363.4 783.9,362.9 789.0,362.9 797.8,363.4 800.7,364.2 805.6,367.1 807.7,369.1 812.6,375.5 814.4,378.5 817.7,386.4 819.2,389.5 822.6,396.4 824.3,399.8 828.7,409.2 830.3,410.3 833.5,406.4 834.4,407.5 835.3,416.9 835.4,421.2 834.7,432.0 833.8,435.4 830.4,440.8 828.8,441.0 824.9,436.6 823.2,434.2 819.3,427.3 817.7,424.6 814.4,418.7 812.9,416.6 808.9,412.7 807.0,411.2 802.1,408.3 800.0,407.4 795.1,406.5 792.8,406.7 786.9,408.6 784.6,409.4 779.7,410.8 777.6,411.3 772.7,411.7 770.4,411.7 764.5,411.3 761.6,410.8 753.7,409.4 750.0,408.7 740.2,407.3 736.4,406.6 728.5,405.2 726.0,404.4 721.8,402.5" fill="#ffa27b"/><polygon points="743.6,392.6 746.5,387.7 748.1,385.4 752.5,379.5 754.9,377.5 761.8,374.1 764.9,372.8 772.8,370.6 776.6,370.1 786.4,369.9 790.0,370.1 796.8,371.6 799.3,372.7 804.2,376.1 806.1,378.1 810.1,384.0 811.5,386.3 814.3,391.2 815.7,393.9 819.1,401.8 820.6,404.9 824.0,411.8 825.5,414.6 828.9,421.0 830.3,422.0 833.5,420.6 834.1,421.9 833.7,429.8 833.0,432.3 830.3,436.2 828.8,436.2 824.9,432.3 823.2,430.1 819.3,423.7 818.0,421.6 815.6,418.2 814.0,416.3 809.1,410.9 807.0,409.1 802.1,406.2 800.0,405.3 795.1,404.4 792.8,404.5 786.9,406.2 784.4,406.9 778.5,408.7 776.2,409.1 771.3,409.1 768.8,408.6 761.9,406.7 758.8,405.7 750.9,403.3 748.3,401.4 743.9,395.0" fill="#ff7440"/><polygon points="753.9,392.4 759.3,386.5 762.1,384.4 770.0,380.5 773.4,379.4 781.2,378.2 784.1,378.2 790.0,379.4 792.8,380.3 799.6,383.2 802.1,385.1 807.0,391.0 808.9,394.1 812.9,403.0 814.0,405.3 815.4,407.2 816.3,408.7 819.2,413.6 820.3,415.9 822.2,421.8 822.0,422.6 819.1,420.7 817.8,419.4 814.9,415.5 814.2,414.4 813.8,413.5 812.6,412.2 807.7,407.3 805.6,405.7 800.7,403.3 798.6,402.6 793.7,402.2 791.6,402.3 786.7,403.2 784.6,403.8 779.7,405.2 777.6,405.7 772.7,406.1 770.4,405.8 764.5,403.9 762.5,403.0 759.1,401.1 757.5,399.6 753.6,394.7" fill="#fc4c18"/><polygon points="764.4,393.5 769.8,389.6 771.6,388.5 774.5,387.2 776.8,387.0 784.1,387.6 787.2,388.1 794.0,389.4 796.7,390.3 802.6,393.1 804.2,395.0 805.7,401.4 805.5,402.6 803.0,402.2 801.6,401.7 797.7,400.3 795.6,399.8 789.7,399.4 787.2,399.5 781.3,400.4 779.2,401.0 775.3,402.4 773.9,402.7 771.5,402.7 769.8,401.5 764.4,395.6" fill="#de3004"/><rect x="324.8" y="441.0" width="62.1" height="11.0" fill="#000"/><rect x="329.8" y="431.6" width="52.1" height="20.4" fill="#000"/><rect x="348.4" y="422.0" width="33.5" height="30.0" fill="#000"/><rect x="363.0" y="412.5" width="18.9" height="39.5" fill="#000"/><rect x="491.5" y="441.0" width="61.5" height="11.0" fill="#000"/><rect x="834.0" y="441.1" width="61.6" height="10.9" fill="#000"/><rect x="838.6" y="422.2" width="9.5" height="29.8" fill="#000"/></g>
<rect x="306.0" y="1157.8" width="680.0" height="264.4000000000001" fill="none" stroke="#000" stroke-width="2.2"/>
<path d="M305.7 1422.2 V1439.2 M305.7 1157.8 V1141.3" stroke="#000" stroke-width="2.2" fill="none"/>
<path d="M362.8 1422.2 V1430.7 M362.8 1157.8 V1149.3" stroke="#000" stroke-width="1.2" fill="none"/>
<path d="M419.8 1422.2 V1439.2 M419.8 1157.8 V1141.3" stroke="#000" stroke-width="2.2" fill="none"/>
<path d="M476.9 1422.2 V1430.7 M476.9 1157.8 V1149.3" stroke="#000" stroke-width="1.2" fill="none"/>
<path d="M534.0 1422.2 V1439.2 M534.0 1157.8 V1141.3" stroke="#000" stroke-width="2.2" fill="none"/>
<path d="M591.0 1422.2 V1430.7 M591.0 1157.8 V1149.3" stroke="#000" stroke-width="1.2" fill="none"/>
<path d="M648.1 1422.2 V1439.2 M648.1 1157.8 V1141.3" stroke="#000" stroke-width="2.2" fill="none"/>
<path d="M705.1 1422.2 V1430.7 M705.1 1157.8 V1149.3" stroke="#000" stroke-width="1.2" fill="none"/>
<path d="M762.2 1422.2 V1439.2 M762.2 1157.8 V1141.3" stroke="#000" stroke-width="2.2" fill="none"/>
<path d="M819.3 1422.2 V1430.7 M819.3 1157.8 V1149.3" stroke="#000" stroke-width="1.2" fill="none"/>
<path d="M876.3 1422.2 V1439.2 M876.3 1157.8 V1141.3" stroke="#000" stroke-width="2.2" fill="none"/>
<path d="M933.4 1422.2 V1430.7 M933.4 1157.8 V1149.3" stroke="#000" stroke-width="1.2" fill="none"/>
<path d="M306.0 1157.8 H289.0" stroke="#000" stroke-width="2.2" fill="none"/>
<path d="M246.22 1151.85 L252.89 1151.85 L249.25 1156.38 L251.07 1156.38 L252.28 1156.95 L252.89 1157.52 L253.50 1159.22 L253.50 1160.35 L252.89 1162.05 L251.68 1163.18 L249.86 1163.75 L248.04 1163.75 L246.22 1163.18 L245.61 1162.62 L245.01 1161.48 M260.77 1151.85 L258.95 1152.42 L257.74 1154.12 L257.13 1156.95 L257.13 1158.65 L257.74 1161.48 L258.95 1163.18 L260.77 1163.75 L261.99 1163.75 L263.80 1163.18 L265.02 1161.48 L265.62 1158.65 L265.62 1156.95 L265.02 1154.12 L263.80 1152.42 L261.99 1151.85 L260.77 1151.85 M272.90 1151.85 L271.08 1152.42 L269.87 1154.12 L269.26 1156.95 L269.26 1158.65 L269.87 1161.48 L271.08 1163.18 L272.90 1163.75 L274.11 1163.75 L275.93 1163.18 L277.14 1161.48 L277.75 1158.65 L277.75 1156.95 L277.14 1154.12 L275.93 1152.42 L274.11 1151.85 L272.90 1151.85" fill="none" stroke="#111" stroke-width="1.3" stroke-linecap="round" stroke-linejoin="round"/>
<path d="M306.0 1195.6 H289.0" stroke="#000" stroke-width="2.2" fill="none"/>
<path d="M251.07 1189.62 L245.01 1197.55 L254.10 1197.55 M251.07 1189.62 L251.07 1201.52 M260.77 1189.62 L258.95 1190.19 L257.74 1191.89 L257.13 1194.72 L257.13 1196.42 L257.74 1199.25 L258.95 1200.95 L260.77 1201.52 L261.99 1201.52 L263.80 1200.95 L265.02 1199.25 L265.62 1196.42 L265.62 1194.72 L265.02 1191.89 L263.80 1190.19 L261.99 1189.62 L260.77 1189.62 M272.90 1189.62 L271.08 1190.19 L269.87 1191.89 L269.26 1194.72 L269.26 1196.42 L269.87 1199.25 L271.08 1200.95 L272.90 1201.52 L274.11 1201.52 L275.93 1200.95 L277.14 1199.25 L277.75 1196.42 L277.75 1194.72 L277.14 1191.89 L275.93 1190.19 L274.11 1189.62 L272.90 1189.62" fill="none" stroke="#111" stroke-width="1.3" stroke-linecap="round" stroke-linejoin="round"/>
<path d="M306.0 1233.3 H289.0" stroke="#000" stroke-width="2.2" fill="none"/>
<path d="M252.28 1227.39 L246.22 1227.39 L245.61 1232.49 L246.22 1231.93 L248.04 1231.36 L249.86 1231.36 L251.68 1231.93 L252.89 1233.06 L253.50 1234.76 L253.50 1235.89 L252.89 1237.59 L251.68 1238.73 L249.86 1239.29 L248.04 1239.29 L246.22 1238.73 L245.61 1238.16 L245.01 1237.03 M260.77 1227.39 L258.95 1227.96 L257.74 1229.66 L257.13 1232.49 L257.13 1234.19 L257.74 1237.03 L258.95 1238.73 L260.77 1239.29 L261.99 1239.29 L263.80 1238.73 L265.02 1237.03 L265.62 1234.19 L265.62 1232.49 L265.02 1229.66 L263.80 1227.96 L261.99 1227.39 L260.77 1227.39 M272.90 1227.39 L271.08 1227.96 L269.87 1229.66 L269.26 1232.49 L269.26 1234.19 L269.87 1237.03 L271.08 1238.73 L272.90 1239.29 L274.11 1239.29 L275.93 1238.73 L277.14 1237.03 L277.75 1234.19 L277.75 1232.49 L277.14 1229.66 L275.93 1227.96 L274.11 1227.39 L272.90 1227.39" fill="none" stroke="#111" stroke-width="1.3" stroke-linecap="round" stroke-linejoin="round"/>
<path d="M306.0 1308.9 H289.0" stroke="#000" stroke-width="2.2" fill="none"/>
<path d="M253.50 1302.94 L247.43 1314.84 M245.01 1302.94 L253.50 1302.94 M260.77 1302.94 L258.95 1303.50 L257.74 1305.20 L257.13 1308.04 L257.13 1309.74 L257.74 1312.57 L258.95 1314.27 L260.77 1314.84 L261.99 1314.84 L263.80 1314.27 L265.02 1312.57 L265.62 1309.74 L265.62 1308.04 L265.02 1305.20 L263.80 1303.50 L261.99 1302.94 L260.77 1302.94 M272.90 1302.94 L271.08 1303.50 L269.87 1305.20 L269.26 1308.04 L269.26 1309.74 L269.87 1312.57 L271.08 1314.27 L272.90 1314.84 L274.11 1314.84 L275.93 1314.27 L277.14 1312.57 L277.75 1309.74 L277.75 1308.04 L277.14 1305.20 L275.93 1303.50 L274.11 1302.94 L272.90 1302.94" fill="none" stroke="#111" stroke-width="1.3" stroke-linecap="round" stroke-linejoin="round"/>
<path d="M306.0 1365.5 H289.0" stroke="#000" stroke-width="2.2" fill="none"/>
<path d="M248.04 1359.59 L246.22 1360.16 L245.61 1361.29 L245.61 1362.43 L246.22 1363.56 L247.43 1364.13 L249.86 1364.69 L251.68 1365.26 L252.89 1366.39 L253.50 1367.53 L253.50 1369.23 L252.89 1370.36 L252.28 1370.93 L250.46 1371.49 L248.04 1371.49 L246.22 1370.93 L245.61 1370.36 L245.01 1369.23 L245.01 1367.53 L245.61 1366.39 L246.83 1365.26 L248.65 1364.69 L251.07 1364.13 L252.28 1363.56 L252.89 1362.43 L252.89 1361.29 L252.28 1360.16 L250.46 1359.59 L248.04 1359.59 M264.41 1359.59 L258.35 1359.59 L257.74 1364.69 L258.35 1364.13 L260.17 1363.56 L261.99 1363.56 L263.80 1364.13 L265.02 1365.26 L265.62 1366.96 L265.62 1368.09 L265.02 1369.79 L263.80 1370.93 L261.99 1371.49 L260.17 1371.49 L258.35 1370.93 L257.74 1370.36 L257.13 1369.23 M272.90 1359.59 L271.08 1360.16 L269.87 1361.86 L269.26 1364.69 L269.26 1366.39 L269.87 1369.23 L271.08 1370.93 L272.90 1371.49 L274.11 1371.49 L275.93 1370.93 L277.14 1369.23 L277.75 1366.39 L277.75 1364.69 L277.14 1361.86 L275.93 1360.16 L274.11 1359.59 L272.90 1359.59" fill="none" stroke="#111" stroke-width="1.3" stroke-linecap="round" stroke-linejoin="round"/>
<path d="M306.0 1422.2 H289.0" stroke="#000" stroke-width="2.2" fill="none"/>
<path d="M234.70 1418.52 L235.91 1417.95 L237.73 1416.25 L237.73 1428.15 M248.65 1416.25 L246.83 1416.82 L245.61 1418.52 L245.01 1421.35 L245.01 1423.05 L245.61 1425.88 L246.83 1427.58 L248.65 1428.15 L249.86 1428.15 L251.68 1427.58 L252.89 1425.88 L253.50 1423.05 L253.50 1421.35 L252.89 1418.52 L251.68 1416.82 L249.86 1416.25 L248.65 1416.25 M260.77 1416.25 L258.95 1416.82 L257.74 1418.52 L257.13 1421.35 L257.13 1423.05 L257.74 1425.88 L258.95 1427.58 L260.77 1428.15 L261.99 1428.15 L263.80 1427.58 L265.02 1425.88 L265.62 1423.05 L265.62 1421.35 L265.02 1418.52 L263.80 1416.82 L261.99 1416.25 L260.77 1416.25 M272.90 1416.25 L271.08 1416.82 L269.87 1418.52 L269.26 1421.35 L269.26 1423.05 L269.87 1425.88 L271.08 1427.58 L272.90 1428.15 L274.11 1428.15 L275.93 1427.58 L277.14 1425.88 L277.75 1423.05 L277.75 1421.35 L277.14 1418.52 L275.93 1416.82 L274.11 1416.25 L272.90 1416.25" fill="none" stroke="#111" stroke-width="1.3" stroke-linecap="round" stroke-linejoin="round"/>
<path d="M986.0 1179.0 H1002.7" stroke="#000" stroke-width="2.2" fill="none"/>
<path d="M1017.33 1173.05 L1015.42 1173.63 L1014.79 1174.78 L1014.79 1175.93 L1015.42 1177.08 L1016.69 1177.66 L1019.24 1178.24 L1021.14 1178.81 L1022.41 1179.96 L1023.05 1181.12 L1023.05 1182.85 L1022.41 1184.00 L1021.78 1184.57 L1019.87 1185.15 L1017.33 1185.15 L1015.42 1184.57 L1014.79 1184.00 L1014.15 1182.85 L1014.15 1181.12 L1014.79 1179.96 L1016.06 1178.81 L1017.96 1178.24 L1020.51 1177.66 L1021.78 1177.08 L1022.41 1175.93 L1022.41 1174.78 L1021.78 1173.63 L1019.87 1173.05 L1017.33 1173.05" fill="none" stroke="#111" stroke-width="1.3" stroke-linecap="round" stroke-linejoin="round"/>
<path d="M986.0 1277.4 H1002.7" stroke="#000" stroke-width="2.2" fill="none"/>
<path d="M1020.08 1271.45 L1014.15 1279.52 L1023.05 1279.52 M1020.08 1271.45 L1020.08 1283.55" fill="none" stroke="#111" stroke-width="1.3" stroke-linecap="round" stroke-linejoin="round"/>
<path d="M305.10 1451.25 L303.30 1451.81 L302.09 1453.50 L301.49 1456.31 L301.49 1457.99 L302.09 1460.80 L303.30 1462.49 L305.10 1463.05 L306.30 1463.05 L308.10 1462.49 L309.31 1460.80 L309.91 1457.99 L309.91 1456.31 L309.31 1453.50 L308.10 1451.81 L306.30 1451.25 L305.10 1451.25" fill="none" stroke="#111" stroke-width="1.3" stroke-linecap="round" stroke-linejoin="round"/>
<path d="M411.11 1452.94 L410.51 1451.81 L408.70 1451.25 L407.50 1451.25 L405.70 1451.81 L404.49 1453.50 L403.89 1456.31 L403.89 1459.12 L404.49 1461.36 L405.70 1462.49 L407.50 1463.05 L408.10 1463.05 L409.91 1462.49 L411.11 1461.36 L411.71 1459.68 L411.71 1459.12 L411.11 1457.43 L409.91 1456.31 L408.10 1455.75 L407.50 1455.75 L405.70 1456.31 L404.49 1457.43 L403.89 1459.12 M418.92 1451.25 L417.12 1451.81 L415.92 1453.50 L415.32 1456.31 L415.32 1457.99 L415.92 1460.80 L417.12 1462.49 L418.92 1463.05 L420.13 1463.05 L421.93 1462.49 L423.13 1460.80 L423.73 1457.99 L423.73 1456.31 L423.13 1453.50 L421.93 1451.81 L420.13 1451.25 L418.92 1451.25 M427.94 1451.25 L427.94 1463.05 M427.94 1451.25 L435.76 1451.25 M427.94 1456.87 L432.75 1456.87 M427.94 1463.05 L435.76 1463.05" fill="none" stroke="#111" stroke-width="1.3" stroke-linecap="round" stroke-linejoin="round"/>
<path d="M512.61 1453.50 L513.81 1452.94 L515.61 1451.25 L515.61 1463.05 M523.43 1454.06 L523.43 1453.50 L524.03 1452.37 L524.63 1451.81 L525.84 1451.25 L528.24 1451.25 L529.44 1451.81 L530.04 1452.37 L530.65 1453.50 L530.65 1454.62 L530.04 1455.75 L528.84 1457.43 L522.83 1463.05 L531.25 1463.05 M538.46 1451.25 L536.66 1451.81 L535.46 1453.50 L534.85 1456.31 L534.85 1457.99 L535.46 1460.80 L536.66 1462.49 L538.46 1463.05 L539.66 1463.05 L541.47 1462.49 L542.67 1460.80 L543.27 1457.99 L543.27 1456.31 L542.67 1453.50 L541.47 1451.81 L539.66 1451.25 L538.46 1451.25 M547.48 1451.25 L547.48 1463.05 M547.48 1451.25 L555.30 1451.25 M547.48 1456.87 L552.29 1456.87 M547.48 1463.05 L555.30 1463.05" fill="none" stroke="#111" stroke-width="1.3" stroke-linecap="round" stroke-linejoin="round"/>
<path d="M632.75 1453.50 L633.95 1452.94 L635.75 1451.25 L635.75 1463.05 M645.97 1451.25 L644.17 1451.81 L643.57 1452.94 L643.57 1454.06 L644.17 1455.18 L645.37 1455.75 L647.78 1456.31 L649.58 1456.87 L650.78 1457.99 L651.38 1459.12 L651.38 1460.80 L650.78 1461.93 L650.18 1462.49 L648.38 1463.05 L645.97 1463.05 L644.17 1462.49 L643.57 1461.93 L642.97 1460.80 L642.97 1459.12 L643.57 1457.99 L644.77 1456.87 L646.57 1456.31 L648.98 1455.75 L650.18 1455.18 L650.78 1454.06 L650.78 1452.94 L650.18 1451.81 L648.38 1451.25 L645.97 1451.25 M658.60 1451.25 L656.80 1451.81 L655.59 1453.50 L654.99 1456.31 L654.99 1457.99 L655.59 1460.80 L656.80 1462.49 L658.60 1463.05 L659.80 1463.05 L661.61 1462.49 L662.81 1460.80 L663.41 1457.99 L663.41 1456.31 L662.81 1453.50 L661.61 1451.81 L659.80 1451.25 L658.60 1451.25" fill="none" stroke="#111" stroke-width="1.3" stroke-linecap="round" stroke-linejoin="round"/>
<path d="M739.36 1453.50 L740.56 1452.94 L742.36 1451.25 L742.36 1463.05 M750.18 1454.06 L750.18 1453.50 L750.78 1452.37 L751.38 1451.81 L752.58 1451.25 L754.99 1451.25 L756.19 1451.81 L756.79 1452.37 L757.39 1453.50 L757.39 1454.62 L756.79 1455.75 L755.59 1457.43 L749.58 1463.05 L758.00 1463.05 M765.21 1451.25 L763.41 1451.81 L762.20 1453.50 L761.60 1456.31 L761.60 1457.99 L762.20 1460.80 L763.41 1462.49 L765.21 1463.05 L766.41 1463.05 L768.22 1462.49 L769.42 1460.80 L770.02 1457.99 L770.02 1456.31 L769.42 1453.50 L768.22 1451.81 L766.41 1451.25 L765.21 1451.25 M773.03 1451.25 L776.03 1463.05 M779.04 1451.25 L776.03 1463.05 M779.04 1451.25 L782.04 1463.05 M785.05 1451.25 L782.04 1463.05" fill="none" stroke="#111" stroke-width="1.3" stroke-linecap="round" stroke-linejoin="round"/>
<path d="M866.11 1452.94 L865.51 1451.81 L863.70 1451.25 L862.50 1451.25 L860.70 1451.81 L859.50 1453.50 L858.89 1456.31 L858.89 1459.12 L859.50 1461.36 L860.70 1462.49 L862.50 1463.05 L863.10 1463.05 L864.91 1462.49 L866.11 1461.36 L866.71 1459.68 L866.71 1459.12 L866.11 1457.43 L864.91 1456.31 L863.10 1455.75 L862.50 1455.75 L860.70 1456.31 L859.50 1457.43 L858.89 1459.12 M873.93 1451.25 L872.12 1451.81 L870.92 1453.50 L870.32 1456.31 L870.32 1457.99 L870.92 1460.80 L872.12 1462.49 L873.93 1463.05 L875.13 1463.05 L876.93 1462.49 L878.13 1460.80 L878.73 1457.99 L878.73 1456.31 L878.13 1453.50 L876.93 1451.81 L875.13 1451.25 L873.93 1451.25 M881.74 1451.25 L884.75 1463.05 M887.75 1451.25 L884.75 1463.05 M887.75 1451.25 L890.76 1463.05 M893.77 1451.25 L890.76 1463.05" fill="none" stroke="#111" stroke-width="1.3" stroke-linecap="round" stroke-linejoin="round"/>
<path d="M193.95 1393.55 L213.75 1393.55 M193.95 1393.55 L193.95 1385.11 L194.89 1382.30 L195.84 1381.36 L197.72 1380.42 L200.55 1380.42 L202.44 1381.36 L203.38 1382.30 L204.32 1385.11 L204.32 1393.55 M200.55 1373.86 L213.75 1373.86 M206.21 1373.86 L203.38 1372.92 L201.49 1371.05 L200.55 1369.17 L200.55 1366.36 M206.21 1362.61 L206.21 1351.36 L204.32 1351.36 L202.44 1352.30 L201.49 1353.24 L200.55 1355.11 L200.55 1357.92 L201.49 1359.80 L203.38 1361.67 L206.21 1362.61 L208.09 1362.61 L210.92 1361.67 L212.81 1359.80 L213.75 1357.92 L213.75 1355.11 L212.81 1353.24 L210.92 1351.36 M203.38 1335.42 L201.49 1336.36 L200.55 1339.17 L200.55 1341.98 L201.49 1344.80 L203.38 1345.73 L205.26 1344.80 L206.21 1342.92 L207.15 1338.23 L208.09 1336.36 L209.98 1335.42 L210.92 1335.42 L212.81 1336.36 L213.75 1339.17 L213.75 1341.98 L212.81 1344.80 L210.92 1345.73 M203.38 1319.48 L201.49 1320.42 L200.55 1323.23 L200.55 1326.05 L201.49 1328.86 L203.38 1329.80 L205.26 1328.86 L206.21 1326.98 L207.15 1322.30 L208.09 1320.42 L209.98 1319.48 L210.92 1319.48 L212.81 1320.42 L213.75 1323.23 L213.75 1326.05 L212.81 1328.86 L210.92 1329.80 M200.55 1312.92 L209.98 1312.92 L212.81 1311.98 L213.75 1310.11 L213.75 1307.29 L212.81 1305.42 L209.98 1302.61 M200.55 1302.61 L213.75 1302.61 M200.55 1295.11 L213.75 1295.11 M206.21 1295.11 L203.38 1294.17 L201.49 1292.29 L200.55 1290.42 L200.55 1287.61 M206.21 1283.86 L206.21 1272.61 L204.32 1272.61 L202.44 1273.54 L201.49 1274.48 L200.55 1276.36 L200.55 1279.17 L201.49 1281.04 L203.38 1282.92 L206.21 1283.86 L208.09 1283.86 L210.92 1282.92 L212.81 1281.04 L213.75 1279.17 L213.75 1276.36 L212.81 1274.48 L210.92 1272.61 M190.93 1244.48 L192.72 1246.35 L195.41 1248.23 L198.99 1250.10 L203.47 1251.04 L207.06 1251.04 L211.53 1250.10 L215.12 1248.23 L217.80 1246.35 L219.60 1244.48 M200.55 1237.92 L213.75 1237.92 M204.32 1237.92 L201.49 1235.10 L200.55 1233.23 L200.55 1230.42 L201.49 1228.54 L204.32 1227.60 L213.75 1227.60 M204.32 1227.60 L201.49 1224.79 L200.55 1222.91 L200.55 1220.10 L201.49 1218.23 L204.32 1217.29 L213.75 1217.29 M193.95 1209.79 L213.75 1209.79 M203.38 1209.79 L201.49 1207.91 L200.55 1206.04 L200.55 1203.23 L201.49 1201.35 L203.38 1199.48 L206.21 1198.54 L208.09 1198.54 L210.92 1199.48 L212.81 1201.35 L213.75 1203.23 L213.75 1206.04 L212.81 1207.91 L210.92 1209.79 M190.93 1192.91 L192.72 1191.04 L195.41 1189.16 L198.99 1187.29 L203.47 1186.35 L207.06 1186.35 L211.53 1187.29 L215.12 1189.16 L217.80 1191.04 L219.60 1192.91" fill="none" stroke="#111" stroke-width="1.3" stroke-linecap="round" stroke-linejoin="round"/>
<path d="M1047.45 1374.95 L1067.35 1374.95 M1047.45 1361.79 L1067.35 1361.79 M1056.93 1374.95 L1056.93 1361.79 M1059.77 1355.20 L1059.77 1343.92 L1057.87 1343.92 L1055.98 1344.86 L1055.03 1345.80 L1054.08 1347.68 L1054.08 1350.50 L1055.03 1352.38 L1056.93 1354.26 L1059.77 1355.20 L1061.66 1355.20 L1064.51 1354.26 L1066.40 1352.38 L1067.35 1350.50 L1067.35 1347.68 L1066.40 1345.80 L1064.51 1343.92 M1047.45 1338.28 L1048.40 1337.34 L1047.45 1336.40 L1046.50 1337.34 L1047.45 1338.28 M1054.08 1337.34 L1067.35 1337.34 M1054.08 1319.47 L1069.25 1319.47 L1072.09 1320.41 L1073.04 1321.35 L1073.98 1323.23 L1073.98 1326.05 L1073.04 1327.93 M1056.93 1319.47 L1055.03 1321.35 L1054.08 1323.23 L1054.08 1326.05 L1055.03 1327.93 L1056.93 1329.81 L1059.77 1330.75 L1061.66 1330.75 L1064.51 1329.81 L1066.40 1327.93 L1067.35 1326.05 L1067.35 1323.23 L1066.40 1321.35 L1064.51 1319.47 M1047.45 1311.95 L1067.35 1311.95 M1057.87 1311.95 L1055.03 1309.13 L1054.08 1307.25 L1054.08 1304.43 L1055.03 1302.54 L1057.87 1301.60 L1067.35 1301.60 M1047.45 1293.14 L1063.56 1293.14 L1066.40 1292.20 L1067.35 1290.32 L1067.35 1288.44 M1054.08 1295.96 L1054.08 1289.38 M1044.42 1261.17 L1046.22 1263.05 L1048.92 1264.93 L1052.52 1266.81 L1057.02 1267.75 L1060.62 1267.75 L1065.12 1266.81 L1068.72 1264.93 L1071.42 1263.05 L1073.23 1261.17 M1047.45 1254.59 L1067.35 1254.59 M1054.08 1245.18 L1063.56 1254.59 M1059.77 1250.83 L1067.35 1244.24 M1054.08 1238.60 L1067.35 1238.60 M1057.87 1238.60 L1055.03 1235.78 L1054.08 1233.90 L1054.08 1231.08 L1055.03 1229.20 L1057.87 1228.26 L1067.35 1228.26 M1057.87 1228.26 L1055.03 1225.44 L1054.08 1223.56 L1054.08 1220.74 L1055.03 1218.85 L1057.87 1217.91 L1067.35 1217.91 M1044.42 1211.33 L1046.22 1209.45 L1048.92 1207.57 L1052.52 1205.69 L1057.02 1204.75 L1060.62 1204.75 L1065.12 1205.69 L1068.72 1207.57 L1071.42 1209.45 L1073.23 1211.33" fill="none" stroke="#111" stroke-width="1.3" stroke-linecap="round" stroke-linejoin="round"/>
<path d="M316.15 1123.42 L315.42 1121.95 L313.97 1120.48 L312.51 1119.75 L309.61 1119.75 L308.16 1120.48 L306.70 1121.95 L305.98 1123.42 L305.25 1125.62 L305.25 1129.28 L305.98 1131.48 L306.70 1132.95 L308.16 1134.42 L309.61 1135.15 L312.51 1135.15 L313.97 1134.42 L315.42 1132.95 L316.15 1131.48 M321.23 1119.75 L321.23 1135.15 M329.95 1124.88 L328.50 1125.62 L327.04 1127.08 L326.32 1129.28 L326.32 1130.75 L327.04 1132.95 L328.50 1134.42 L329.95 1135.15 L332.13 1135.15 L333.58 1134.42 L335.03 1132.95 L335.76 1130.75 L335.76 1129.28 L335.03 1127.08 L333.58 1125.62 L332.13 1124.88 L329.95 1124.88 M340.84 1124.88 L340.84 1132.22 L341.57 1134.42 L343.02 1135.15 L345.20 1135.15 L346.66 1134.42 L348.84 1132.22 M348.84 1124.88 L348.84 1135.15 M362.64 1119.75 L362.64 1135.15 M362.64 1127.08 L361.18 1125.62 L359.73 1124.88 L357.55 1124.88 L356.10 1125.62 L354.65 1127.08 L353.92 1129.28 L353.92 1130.75 L354.65 1132.95 L356.10 1134.42 L357.55 1135.15 L359.73 1135.15 L361.18 1134.42 L362.64 1132.95 M379.35 1119.75 L380.07 1120.48 L380.80 1119.75 L380.07 1119.02 L379.35 1119.75 M380.07 1124.88 L380.07 1135.15 M393.87 1127.08 L392.42 1125.62 L390.97 1124.88 L388.79 1124.88 L387.34 1125.62 L385.88 1127.08 L385.16 1129.28 L385.16 1130.75 L385.88 1132.95 L387.34 1134.42 L388.79 1135.15 L390.97 1135.15 L392.42 1134.42 L393.87 1132.95 M398.23 1129.28 L406.95 1129.28 L406.95 1127.82 L406.22 1126.35 L405.50 1125.62 L404.04 1124.88 L401.86 1124.88 L400.41 1125.62 L398.96 1127.08 L398.23 1129.28 L398.23 1130.75 L398.96 1132.95 L400.41 1134.42 L401.86 1135.15 L404.04 1135.15 L405.50 1134.42 L406.95 1132.95 M418.57 1121.95 L418.57 1135.15 M412.03 1128.55 L425.11 1128.55 M430.92 1119.75 L430.92 1135.15 M436.01 1119.75 L436.73 1120.48 L437.46 1119.75 L436.73 1119.02 L436.01 1119.75 M436.73 1124.88 L436.73 1135.15 M450.53 1124.88 L450.53 1140.28 M450.53 1127.08 L449.08 1125.62 L447.63 1124.88 L445.45 1124.88 L444.00 1125.62 L442.54 1127.08 L441.82 1129.28 L441.82 1130.75 L442.54 1132.95 L444.00 1134.42 L445.45 1135.15 L447.63 1135.15 L449.08 1134.42 L450.53 1132.95 M456.35 1124.88 L456.35 1132.22 L457.07 1134.42 L458.53 1135.15 L460.70 1135.15 L462.16 1134.42 L464.34 1132.22 M464.34 1124.88 L464.34 1135.15 M469.42 1119.75 L470.15 1120.48 L470.87 1119.75 L470.15 1119.02 L469.42 1119.75 M470.15 1124.88 L470.15 1135.15 M483.95 1119.75 L483.95 1135.15 M483.95 1127.08 L482.50 1125.62 L481.04 1124.88 L478.87 1124.88 L477.41 1125.62 L475.96 1127.08 L475.23 1129.28 L475.23 1130.75 L475.96 1132.95 L477.41 1134.42 L478.87 1135.15 L481.04 1135.15 L482.50 1134.42 L483.95 1132.95" fill="none" stroke="#111" stroke-width="1.3" stroke-linecap="round" stroke-linejoin="round"/>
<path d="M944.29 1124.82 L944.29 1136.40 L943.56 1138.57 L942.84 1139.29 L941.38 1140.02 L939.19 1140.02 L937.74 1139.29 M944.29 1126.99 L942.84 1125.54 L941.38 1124.82 L939.19 1124.82 L937.74 1125.54 L936.28 1126.99 L935.55 1129.16 L935.55 1130.61 L936.28 1132.78 L937.74 1134.23 L939.19 1134.95 L941.38 1134.95 L942.84 1134.23 L944.29 1132.78 M961.78 1116.85 L948.66 1140.02 M966.15 1119.75 L966.15 1134.95 M973.44 1124.82 L966.15 1132.05 M969.06 1129.16 L974.16 1134.95 M986.55 1124.82 L986.55 1136.40 L985.82 1138.57 L985.09 1139.29 L983.64 1140.02 L981.45 1140.02 L979.99 1139.29 M986.55 1126.99 L985.09 1125.54 L983.64 1124.82 L981.45 1124.82 L979.99 1125.54 L978.54 1126.99 L977.81 1129.16 L977.81 1130.61 L978.54 1132.78 L979.99 1134.23 L981.45 1134.95 L983.64 1134.95 L985.09 1134.23 L986.55 1132.78" fill="none" stroke="#111" stroke-width="1.3" stroke-linecap="round" stroke-linejoin="round"/>
<text x="194.3" y="1095.6" class="t" font-size="27.4" textLength="903" lengthAdjust="spacingAndGlyphs">CESM2B2_Oslo_FC55CLUBB_gamma0p238 - CESM2B2_Oslo_FC55CLUBB</text>
<path d="M518.10 1468.20 L518.10 1478.70 M518.10 1468.20 L522.62 1478.70 M527.14 1468.20 L522.62 1478.70 M527.14 1468.20 L527.14 1478.70 M531.67 1468.20 L531.67 1478.70 M536.19 1468.20 L536.19 1478.70 M536.19 1468.20 L544.10 1478.70 M544.10 1468.20 L544.10 1478.70" fill="none" stroke="#111" stroke-width="1.2" stroke-linecap="round" stroke-linejoin="round"/>
<path d="M556.70 1472.70 L566.40 1472.70 M556.70 1475.70 L566.40 1475.70" fill="none" stroke="#111" stroke-width="1.2" stroke-linecap="round" stroke-linejoin="round"/>
<path d="M586.60 1474.20 L595.86 1474.20 M602.55 1468.20 L601.01 1468.70 L599.98 1470.20 L599.47 1472.70 L599.47 1474.20 L599.98 1476.70 L601.01 1478.20 L602.55 1478.70 L603.58 1478.70 L605.13 1478.20 L606.16 1476.70 L606.67 1474.20 L606.67 1472.70 L606.16 1470.20 L605.13 1468.70 L603.58 1468.20 L602.55 1468.20 M610.79 1477.70 L610.27 1478.20 L610.79 1478.70 L611.30 1478.20 L610.79 1477.70 M617.99 1468.20 L616.45 1468.70 L615.42 1470.20 L614.90 1472.70 L614.90 1474.20 L615.42 1476.70 L616.45 1478.20 L617.99 1478.70 L619.02 1478.70 L620.56 1478.20 L621.59 1476.70 L622.11 1474.20 L622.11 1472.70 L621.59 1470.20 L620.56 1468.70 L619.02 1468.20 L617.99 1468.20 M625.71 1470.70 L625.71 1470.20 L626.22 1469.20 L626.74 1468.70 L627.77 1468.20 L629.83 1468.20 L630.86 1468.70 L631.37 1469.20 L631.89 1470.20 L631.89 1471.20 L631.37 1472.20 L630.34 1473.70 L625.20 1478.70 L632.40 1478.70" fill="none" stroke="#111" stroke-width="1.2" stroke-linecap="round" stroke-linejoin="round"/>
<path d="M656.00 1468.20 L656.00 1478.70 M656.00 1468.20 L660.36 1478.70 M664.73 1468.20 L660.36 1478.70 M664.73 1468.20 L664.73 1478.70 M671.82 1468.20 L667.45 1478.70 M671.82 1468.20 L676.18 1478.70 M669.09 1475.20 L674.55 1475.20 M678.36 1468.20 L686.00 1478.70 M678.36 1478.70 L686.00 1468.20" fill="none" stroke="#111" stroke-width="1.2" stroke-linecap="round" stroke-linejoin="round"/>
<path d="M698.10 1472.70 L708.20 1472.70 M698.10 1475.70 L708.20 1475.70" fill="none" stroke="#111" stroke-width="1.2" stroke-linecap="round" stroke-linejoin="round"/>
<path d="M740.91 1468.20 L739.30 1468.70 L738.23 1470.20 L737.70 1472.70 L737.70 1474.20 L738.23 1476.70 L739.30 1478.20 L740.91 1478.70 L741.98 1478.70 L743.58 1478.20 L744.65 1476.70 L745.18 1474.20 L745.18 1472.70 L744.65 1470.20 L743.58 1468.70 L741.98 1468.20 L740.91 1468.20 M749.46 1477.70 L748.92 1478.20 L749.46 1478.70 L749.99 1478.20 L749.46 1477.70 M756.94 1468.20 L755.33 1468.70 L754.27 1470.20 L753.73 1472.70 L753.73 1474.20 L754.27 1476.70 L755.33 1478.20 L756.94 1478.70 L758.01 1478.70 L759.61 1478.20 L760.68 1476.70 L761.21 1474.20 L761.21 1472.70 L760.68 1470.20 L759.61 1468.70 L758.01 1468.20 L756.94 1468.20 M770.83 1468.20 L765.49 1468.20 L764.95 1472.70 L765.49 1472.20 L767.09 1471.70 L768.69 1471.70 L770.30 1472.20 L771.37 1473.20 L771.90 1474.70 L771.90 1475.70 L771.37 1477.20 L770.30 1478.20 L768.69 1478.70 L767.09 1478.70 L765.49 1478.20 L764.95 1477.70 L764.42 1476.70" fill="none" stroke="#111" stroke-width="1.2" stroke-linecap="round" stroke-linejoin="round"/>
<rect x="309.7" y="1495.6" width="42" height="10.7" fill="#00008b"/>
<rect x="351.7" y="1495.6" width="42" height="10.7" fill="#0018b4"/>
<rect x="393.7" y="1495.6" width="42" height="10.7" fill="#002ae0"/>
<rect x="435.7" y="1495.6" width="42" height="10.7" fill="#1c50ff"/>
<rect x="477.7" y="1495.6" width="42" height="10.7" fill="#4278fc"/>
<rect x="519.7" y="1495.6" width="42" height="10.7" fill="#82a8fc"/>
<rect x="561.7" y="1495.6" width="42" height="10.7" fill="#b4ceff"/>
<rect x="603.7" y="1495.6" width="42" height="10.7" fill="#d6ebff"/>
<rect x="645.7" y="1495.6" width="42" height="10.7" fill="#ffebd8"/>
<rect x="687.7" y="1495.6" width="42" height="10.7" fill="#ffcab1"/>
<rect x="729.7" y="1495.6" width="42" height="10.7" fill="#ffa27b"/>
<rect x="771.7" y="1495.6" width="42" height="10.7" fill="#ff7440"/>
<rect x="813.7" y="1495.6" width="42" height="10.7" fill="#fc4c18"/>
<rect x="855.7" y="1495.6" width="42" height="10.7" fill="#de3004"/>
<rect x="897.7" y="1495.6" width="42" height="10.7" fill="#b42204"/>
<rect x="939.7" y="1495.6" width="42" height="10.7" fill="#8b0000"/>
<path d="M351.7 1495.6 V1506.3 M393.7 1495.6 V1506.3 M435.7 1495.6 V1506.3 M477.7 1495.6 V1506.3 M519.7 1495.6 V1506.3 M561.7 1495.6 V1506.3 M603.7 1495.6 V1506.3 M645.7 1495.6 V1506.3 M687.7 1495.6 V1506.3 M729.7 1495.6 V1506.3 M771.7 1495.6 V1506.3 M813.7 1495.6 V1506.3 M855.7 1495.6 V1506.3 M897.7 1495.6 V1506.3 M939.7 1495.6 V1506.3 " stroke="#000" stroke-width="1.1" fill="none"/>
<rect x="309.7" y="1495.6" width="672" height="10.7" fill="none" stroke="#000" stroke-width="1.2"/>
<text transform="translate(394.2,1525.5) scale(1.11,1)" class="c" text-anchor="middle" font-size="17.4">−0.05</text>
<text transform="translate(478.2,1525.5) scale(1.11,1)" class="c" text-anchor="middle" font-size="17.4">−0.03</text>
<text transform="translate(562.2,1525.5) scale(1.11,1)" class="c" text-anchor="middle" font-size="17.4">−0.01</text>
<text transform="translate(646.2,1525.5) scale(1.11,1)" class="c" text-anchor="middle" font-size="17.4">0</text>
<text transform="translate(730.2,1525.5) scale(1.11,1)" class="c" text-anchor="middle" font-size="17.4">0.01</text>
<text transform="translate(814.2,1525.5) scale(1.11,1)" class="c" text-anchor="middle" font-size="17.4">0.03</text>
<text transform="translate(898.2,1525.5) scale(1.11,1)" class="c" text-anchor="middle" font-size="17.4">0.05</text>
</svg></body></html>
